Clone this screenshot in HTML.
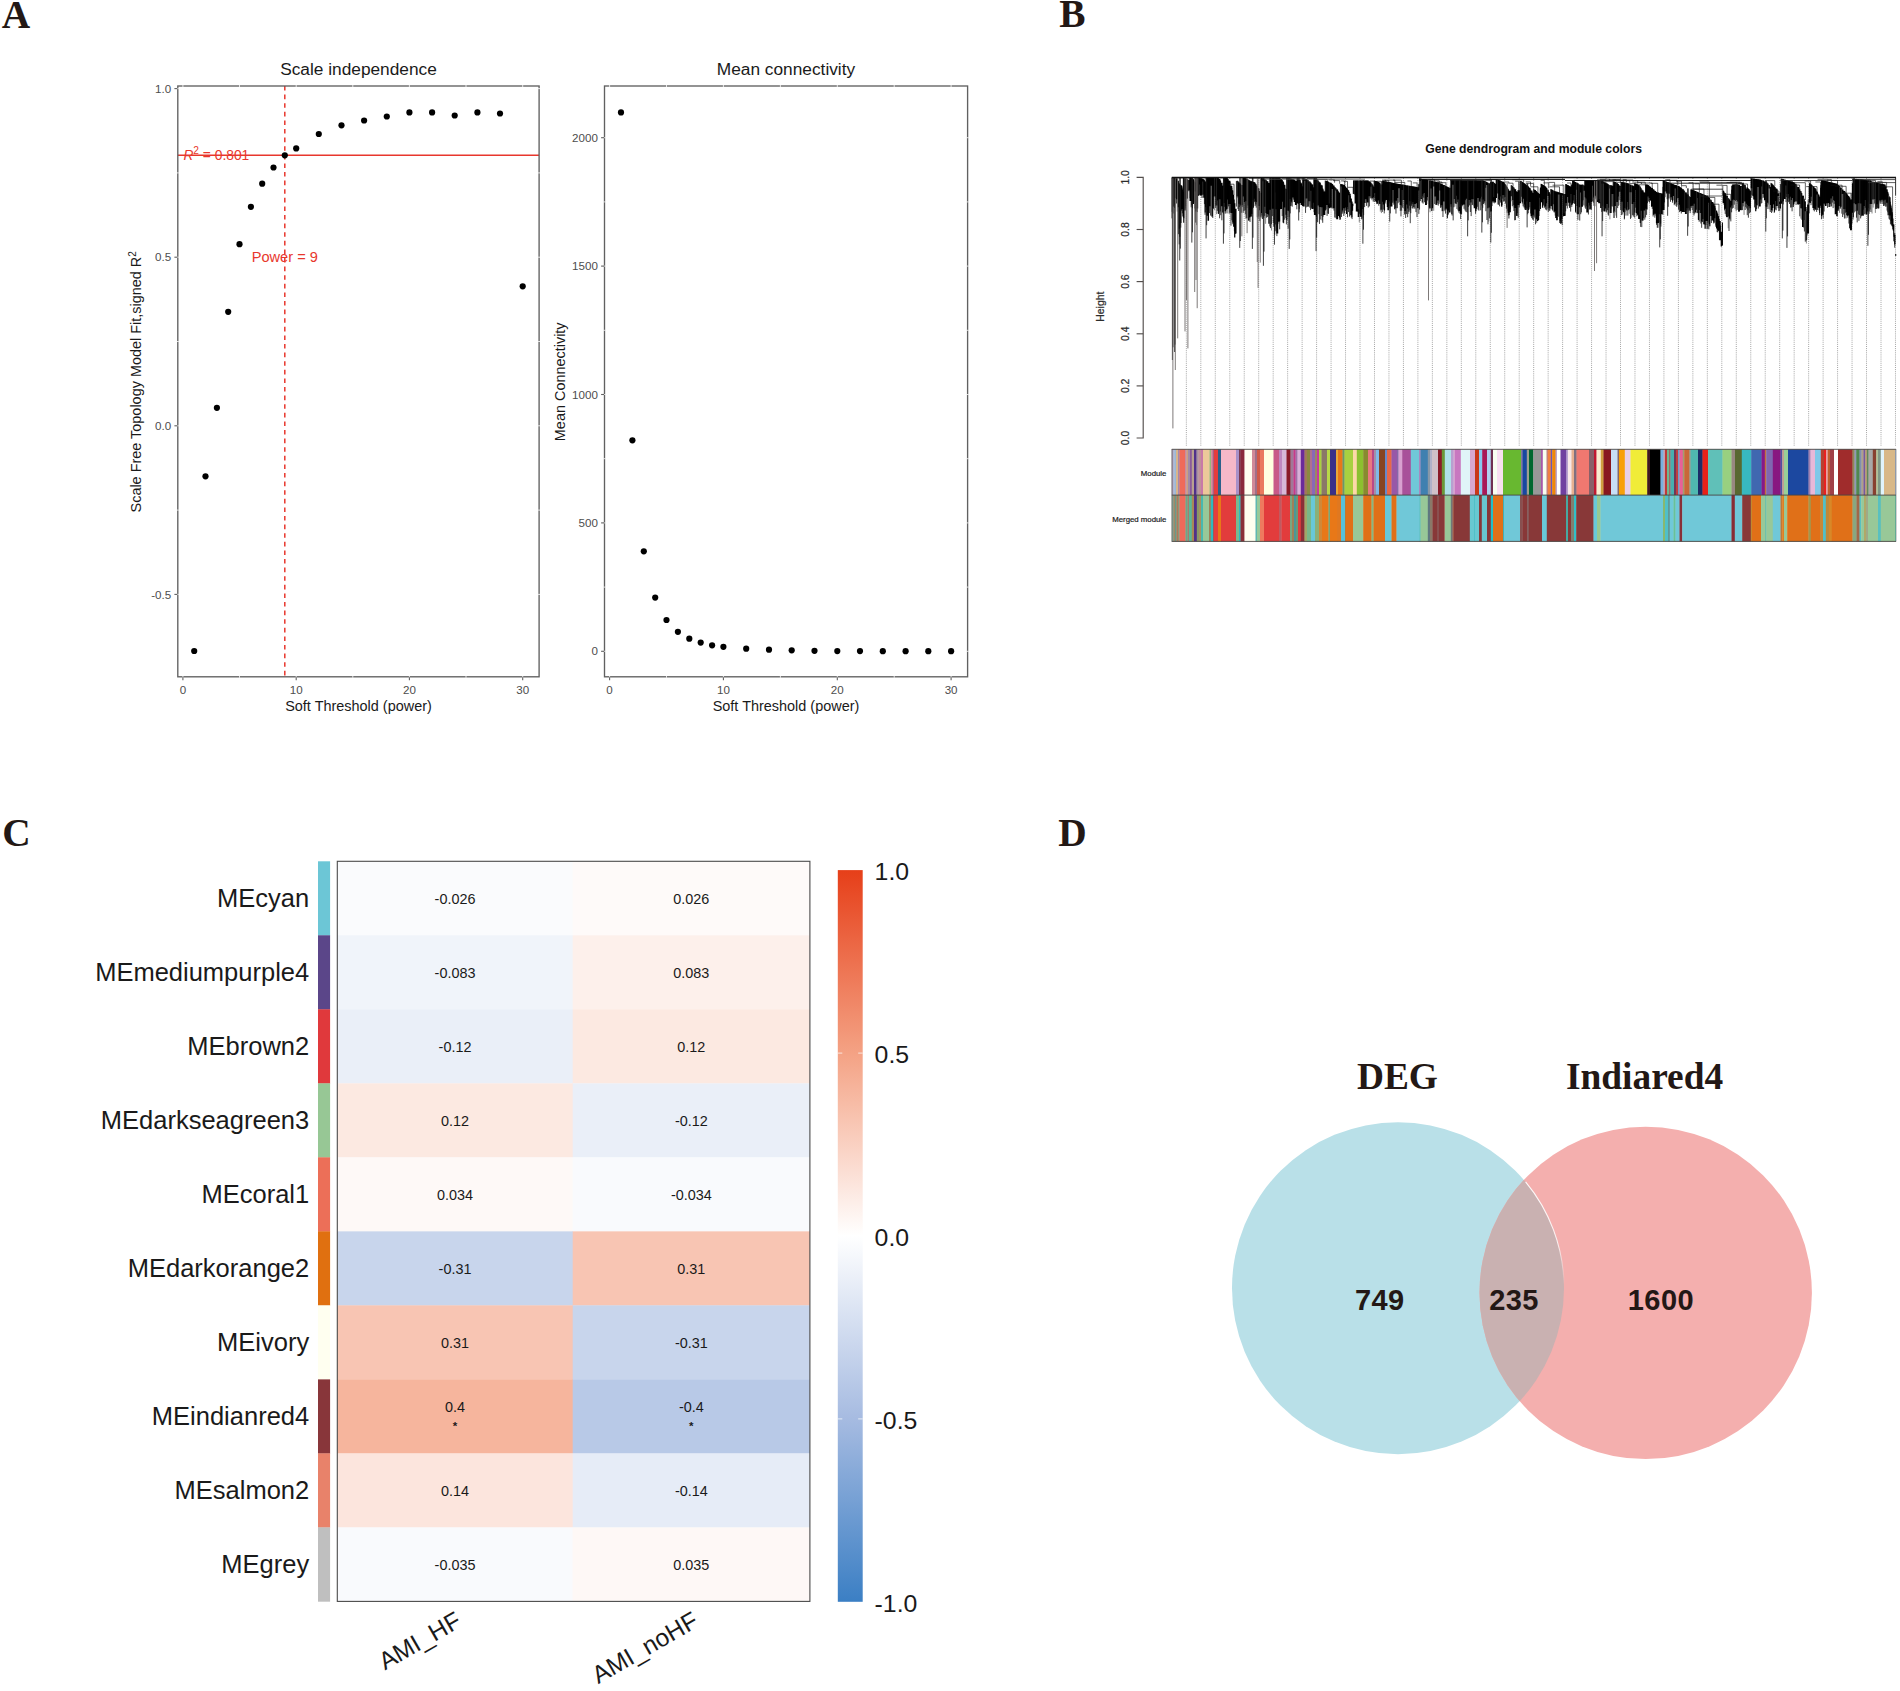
<!DOCTYPE html>
<html lang="en"><head><meta charset="utf-8"><title>WGCNA figure</title>
<style>
html,body{margin:0;padding:0;background:#fff;}
body{width:1900px;height:1691px;overflow:hidden;}
svg{display:block;}
text{font-family:"Liberation Sans",sans-serif;}
.serif{font-family:"Liberation Serif",serif;font-weight:bold;}
</style></head><body>
<svg width="1900" height="1691" viewBox="0 0 1900 1691">
<rect width="1900" height="1691" fill="#fff"/>
<text class="serif" x="1.7" y="27.8" font-size="39.4" fill="#231815">A</text>
<text class="serif" x="1059.2" y="27.2" font-size="39.4" fill="#231815">B</text>
<text class="serif" x="2.3" y="845.7" font-size="39.4" fill="#231815">C</text>
<text class="serif" x="1058.2" y="846.0" font-size="39.4" fill="#231815">D</text>
<g id="panelA">
<line x1="177.8" x2="539.1" y1="155.2" y2="155.2" stroke="#e8372d" stroke-width="1.5"/>
<line x1="284.8" x2="284.8" y1="86.0" y2="676.8" stroke="#e8372d" stroke-width="1.5" stroke-dasharray="4.6 4.0"/>
<circle cx="194.2" cy="651.0" r="3.1" fill="#000"/>
<circle cx="205.5" cy="476.3" r="3.1" fill="#000"/>
<circle cx="216.9" cy="407.8" r="3.1" fill="#000"/>
<circle cx="228.2" cy="311.8" r="3.1" fill="#000"/>
<circle cx="239.5" cy="244.2" r="3.1" fill="#000"/>
<circle cx="250.9" cy="206.8" r="3.1" fill="#000"/>
<circle cx="262.2" cy="183.7" r="3.1" fill="#000"/>
<circle cx="273.5" cy="167.5" r="3.1" fill="#000"/>
<circle cx="284.8" cy="155.3" r="3.1" fill="#000"/>
<circle cx="296.2" cy="148.4" r="3.1" fill="#000"/>
<circle cx="318.8" cy="134.0" r="3.1" fill="#000"/>
<circle cx="341.5" cy="125.3" r="3.1" fill="#000"/>
<circle cx="364.1" cy="120.5" r="3.1" fill="#000"/>
<circle cx="386.8" cy="116.5" r="3.1" fill="#000"/>
<circle cx="409.4" cy="112.4" r="3.1" fill="#000"/>
<circle cx="432.1" cy="112.4" r="3.1" fill="#000"/>
<circle cx="454.7" cy="115.5" r="3.1" fill="#000"/>
<circle cx="477.4" cy="112.4" r="3.1" fill="#000"/>
<circle cx="500.0" cy="113.5" r="3.1" fill="#000"/>
<circle cx="522.7" cy="286.3" r="3.1" fill="#000"/>
<text x="183.4" y="159.6" font-size="13.8" fill="#e8372d"><tspan font-style="italic">R</tspan><tspan dy="-6" font-size="10.2">2</tspan><tspan dy="6"> = 0.801</tspan></text>
<text x="284.8" y="262.1" font-size="14.6" fill="#e8372d" text-anchor="middle">Power = 9</text>
<rect x="177.8" y="86.0" width="361.3" height="590.8" fill="none" stroke="#606060" stroke-width="1.35"/>
<line x1="182.9" x2="182.9" y1="85.0" y2="87.0" stroke="#fff" stroke-width="0.8"/>
<line x1="182.9" x2="182.9" y1="675.8" y2="677.8" stroke="#fff" stroke-width="0.8"/>
<line x1="239.5" x2="239.5" y1="85.0" y2="87.0" stroke="#fff" stroke-width="0.8"/>
<line x1="239.5" x2="239.5" y1="675.8" y2="677.8" stroke="#fff" stroke-width="0.8"/>
<line x1="296.2" x2="296.2" y1="85.0" y2="87.0" stroke="#fff" stroke-width="0.8"/>
<line x1="296.2" x2="296.2" y1="675.8" y2="677.8" stroke="#fff" stroke-width="0.8"/>
<line x1="352.8" x2="352.8" y1="85.0" y2="87.0" stroke="#fff" stroke-width="0.8"/>
<line x1="352.8" x2="352.8" y1="675.8" y2="677.8" stroke="#fff" stroke-width="0.8"/>
<line x1="409.4" x2="409.4" y1="85.0" y2="87.0" stroke="#fff" stroke-width="0.8"/>
<line x1="409.4" x2="409.4" y1="675.8" y2="677.8" stroke="#fff" stroke-width="0.8"/>
<line x1="466.0" x2="466.0" y1="85.0" y2="87.0" stroke="#fff" stroke-width="0.8"/>
<line x1="466.0" x2="466.0" y1="675.8" y2="677.8" stroke="#fff" stroke-width="0.8"/>
<line x1="522.7" x2="522.7" y1="85.0" y2="87.0" stroke="#fff" stroke-width="0.8"/>
<line x1="522.7" x2="522.7" y1="675.8" y2="677.8" stroke="#fff" stroke-width="0.8"/>
<line x1="176.8" x2="178.8" y1="678.7" y2="678.7" stroke="#fff" stroke-width="0.8"/>
<line x1="538.1" x2="540.1" y1="678.7" y2="678.7" stroke="#fff" stroke-width="0.8"/>
<line x1="176.8" x2="178.8" y1="594.4" y2="594.4" stroke="#fff" stroke-width="0.8"/>
<line x1="538.1" x2="540.1" y1="594.4" y2="594.4" stroke="#fff" stroke-width="0.8"/>
<line x1="176.8" x2="178.8" y1="510.1" y2="510.1" stroke="#fff" stroke-width="0.8"/>
<line x1="538.1" x2="540.1" y1="510.1" y2="510.1" stroke="#fff" stroke-width="0.8"/>
<line x1="176.8" x2="178.8" y1="425.8" y2="425.8" stroke="#fff" stroke-width="0.8"/>
<line x1="538.1" x2="540.1" y1="425.8" y2="425.8" stroke="#fff" stroke-width="0.8"/>
<line x1="176.8" x2="178.8" y1="341.5" y2="341.5" stroke="#fff" stroke-width="0.8"/>
<line x1="538.1" x2="540.1" y1="341.5" y2="341.5" stroke="#fff" stroke-width="0.8"/>
<line x1="176.8" x2="178.8" y1="257.2" y2="257.2" stroke="#fff" stroke-width="0.8"/>
<line x1="538.1" x2="540.1" y1="257.2" y2="257.2" stroke="#fff" stroke-width="0.8"/>
<line x1="176.8" x2="178.8" y1="172.9" y2="172.9" stroke="#fff" stroke-width="0.8"/>
<line x1="538.1" x2="540.1" y1="172.9" y2="172.9" stroke="#fff" stroke-width="0.8"/>
<line x1="176.8" x2="178.8" y1="88.6" y2="88.6" stroke="#fff" stroke-width="0.8"/>
<line x1="538.1" x2="540.1" y1="88.6" y2="88.6" stroke="#fff" stroke-width="0.8"/>
<line x1="174.4" x2="177.4" y1="88.6" y2="88.6" stroke="#606060" stroke-width="1.1"/>
<text x="171.2" y="92.7" font-size="11.6" fill="#4d4d4d" text-anchor="end">1.0</text>
<line x1="174.4" x2="177.4" y1="257.2" y2="257.2" stroke="#606060" stroke-width="1.1"/>
<text x="171.2" y="261.3" font-size="11.6" fill="#4d4d4d" text-anchor="end">0.5</text>
<line x1="174.4" x2="177.4" y1="425.8" y2="425.8" stroke="#606060" stroke-width="1.1"/>
<text x="171.2" y="429.9" font-size="11.6" fill="#4d4d4d" text-anchor="end">0.0</text>
<line x1="174.4" x2="177.4" y1="594.4" y2="594.4" stroke="#606060" stroke-width="1.1"/>
<text x="171.2" y="598.5" font-size="11.6" fill="#4d4d4d" text-anchor="end">-0.5</text>
<line x1="182.9" x2="182.9" y1="677.1999999999999" y2="680.1999999999999" stroke="#606060" stroke-width="1.1"/>
<text x="182.9" y="693.8" font-size="11.6" fill="#4d4d4d" text-anchor="middle">0</text>
<line x1="296.2" x2="296.2" y1="677.1999999999999" y2="680.1999999999999" stroke="#606060" stroke-width="1.1"/>
<text x="296.2" y="693.8" font-size="11.6" fill="#4d4d4d" text-anchor="middle">10</text>
<line x1="409.4" x2="409.4" y1="677.1999999999999" y2="680.1999999999999" stroke="#606060" stroke-width="1.1"/>
<text x="409.4" y="693.8" font-size="11.6" fill="#4d4d4d" text-anchor="middle">20</text>
<line x1="522.7" x2="522.7" y1="677.1999999999999" y2="680.1999999999999" stroke="#606060" stroke-width="1.1"/>
<text x="522.7" y="693.8" font-size="11.6" fill="#4d4d4d" text-anchor="middle">30</text>
<text x="358.5" y="74.5" font-size="17.3" fill="#1a1a1a" text-anchor="middle">Scale independence</text>
<text x="358.5" y="710.6" font-size="14.45" fill="#1a1a1a" text-anchor="middle">Soft Threshold (power)</text>
<text transform="translate(141.0 381.8) rotate(-90)" font-size="14.45" fill="#1a1a1a" text-anchor="middle">Scale Free Topology Model Fit,signed R<tspan dy="-5.4" font-size="10.1">2</tspan></text>
<circle cx="621.0" cy="112.4" r="3.1" fill="#000"/>
<circle cx="632.4" cy="440.3" r="3.1" fill="#000"/>
<circle cx="643.8" cy="551.3" r="3.1" fill="#000"/>
<circle cx="655.2" cy="597.6" r="3.1" fill="#000"/>
<circle cx="666.5" cy="620.0" r="3.1" fill="#000"/>
<circle cx="677.9" cy="631.8" r="3.1" fill="#000"/>
<circle cx="689.3" cy="638.7" r="3.1" fill="#000"/>
<circle cx="700.7" cy="642.6" r="3.1" fill="#000"/>
<circle cx="712.1" cy="645.3" r="3.1" fill="#000"/>
<circle cx="723.4" cy="646.8" r="3.1" fill="#000"/>
<circle cx="746.2" cy="648.7" r="3.1" fill="#000"/>
<circle cx="769.0" cy="649.7" r="3.1" fill="#000"/>
<circle cx="791.7" cy="650.3" r="3.1" fill="#000"/>
<circle cx="814.5" cy="650.8" r="3.1" fill="#000"/>
<circle cx="837.3" cy="651.1" r="3.1" fill="#000"/>
<circle cx="860.0" cy="651.1" r="3.1" fill="#000"/>
<circle cx="882.8" cy="651.2" r="3.1" fill="#000"/>
<circle cx="905.6" cy="651.2" r="3.1" fill="#000"/>
<circle cx="928.3" cy="651.2" r="3.1" fill="#000"/>
<circle cx="951.1" cy="651.2" r="3.1" fill="#000"/>
<rect x="604.5" y="86.0" width="363.1" height="590.8" fill="none" stroke="#606060" stroke-width="1.35"/>
<line x1="609.6" x2="609.6" y1="85.0" y2="87.0" stroke="#fff" stroke-width="0.8"/>
<line x1="609.6" x2="609.6" y1="675.8" y2="677.8" stroke="#fff" stroke-width="0.8"/>
<line x1="666.5" x2="666.5" y1="85.0" y2="87.0" stroke="#fff" stroke-width="0.8"/>
<line x1="666.5" x2="666.5" y1="675.8" y2="677.8" stroke="#fff" stroke-width="0.8"/>
<line x1="723.4" x2="723.4" y1="85.0" y2="87.0" stroke="#fff" stroke-width="0.8"/>
<line x1="723.4" x2="723.4" y1="675.8" y2="677.8" stroke="#fff" stroke-width="0.8"/>
<line x1="780.4" x2="780.4" y1="85.0" y2="87.0" stroke="#fff" stroke-width="0.8"/>
<line x1="780.4" x2="780.4" y1="675.8" y2="677.8" stroke="#fff" stroke-width="0.8"/>
<line x1="837.3" x2="837.3" y1="85.0" y2="87.0" stroke="#fff" stroke-width="0.8"/>
<line x1="837.3" x2="837.3" y1="675.8" y2="677.8" stroke="#fff" stroke-width="0.8"/>
<line x1="894.2" x2="894.2" y1="85.0" y2="87.0" stroke="#fff" stroke-width="0.8"/>
<line x1="894.2" x2="894.2" y1="675.8" y2="677.8" stroke="#fff" stroke-width="0.8"/>
<line x1="951.1" x2="951.1" y1="85.0" y2="87.0" stroke="#fff" stroke-width="0.8"/>
<line x1="951.1" x2="951.1" y1="675.8" y2="677.8" stroke="#fff" stroke-width="0.8"/>
<line x1="603.5" x2="605.5" y1="651.3" y2="651.3" stroke="#fff" stroke-width="0.8"/>
<line x1="966.6" x2="968.6" y1="651.3" y2="651.3" stroke="#fff" stroke-width="0.8"/>
<line x1="603.5" x2="605.5" y1="587.1" y2="587.1" stroke="#fff" stroke-width="0.8"/>
<line x1="966.6" x2="968.6" y1="587.1" y2="587.1" stroke="#fff" stroke-width="0.8"/>
<line x1="603.5" x2="605.5" y1="522.9" y2="522.9" stroke="#fff" stroke-width="0.8"/>
<line x1="966.6" x2="968.6" y1="522.9" y2="522.9" stroke="#fff" stroke-width="0.8"/>
<line x1="603.5" x2="605.5" y1="458.7" y2="458.7" stroke="#fff" stroke-width="0.8"/>
<line x1="966.6" x2="968.6" y1="458.7" y2="458.7" stroke="#fff" stroke-width="0.8"/>
<line x1="603.5" x2="605.5" y1="394.5" y2="394.5" stroke="#fff" stroke-width="0.8"/>
<line x1="966.6" x2="968.6" y1="394.5" y2="394.5" stroke="#fff" stroke-width="0.8"/>
<line x1="603.5" x2="605.5" y1="330.3" y2="330.3" stroke="#fff" stroke-width="0.8"/>
<line x1="966.6" x2="968.6" y1="330.3" y2="330.3" stroke="#fff" stroke-width="0.8"/>
<line x1="603.5" x2="605.5" y1="266.1" y2="266.1" stroke="#fff" stroke-width="0.8"/>
<line x1="966.6" x2="968.6" y1="266.1" y2="266.1" stroke="#fff" stroke-width="0.8"/>
<line x1="603.5" x2="605.5" y1="201.9" y2="201.9" stroke="#fff" stroke-width="0.8"/>
<line x1="966.6" x2="968.6" y1="201.9" y2="201.9" stroke="#fff" stroke-width="0.8"/>
<line x1="603.5" x2="605.5" y1="137.7" y2="137.7" stroke="#fff" stroke-width="0.8"/>
<line x1="966.6" x2="968.6" y1="137.7" y2="137.7" stroke="#fff" stroke-width="0.8"/>
<line x1="601.1" x2="604.1" y1="651.3" y2="651.3" stroke="#606060" stroke-width="1.1"/>
<text x="597.9" y="655.4" font-size="11.6" fill="#4d4d4d" text-anchor="end">0</text>
<line x1="601.1" x2="604.1" y1="522.9" y2="522.9" stroke="#606060" stroke-width="1.1"/>
<text x="597.9" y="527.0" font-size="11.6" fill="#4d4d4d" text-anchor="end">500</text>
<line x1="601.1" x2="604.1" y1="394.5" y2="394.5" stroke="#606060" stroke-width="1.1"/>
<text x="597.9" y="398.6" font-size="11.6" fill="#4d4d4d" text-anchor="end">1000</text>
<line x1="601.1" x2="604.1" y1="266.1" y2="266.1" stroke="#606060" stroke-width="1.1"/>
<text x="597.9" y="270.2" font-size="11.6" fill="#4d4d4d" text-anchor="end">1500</text>
<line x1="601.1" x2="604.1" y1="137.7" y2="137.7" stroke="#606060" stroke-width="1.1"/>
<text x="597.9" y="141.8" font-size="11.6" fill="#4d4d4d" text-anchor="end">2000</text>
<line x1="609.6" x2="609.6" y1="677.1999999999999" y2="680.1999999999999" stroke="#606060" stroke-width="1.1"/>
<text x="609.6" y="693.8" font-size="11.6" fill="#4d4d4d" text-anchor="middle">0</text>
<line x1="723.4" x2="723.4" y1="677.1999999999999" y2="680.1999999999999" stroke="#606060" stroke-width="1.1"/>
<text x="723.4" y="693.8" font-size="11.6" fill="#4d4d4d" text-anchor="middle">10</text>
<line x1="837.3" x2="837.3" y1="677.1999999999999" y2="680.1999999999999" stroke="#606060" stroke-width="1.1"/>
<text x="837.3" y="693.8" font-size="11.6" fill="#4d4d4d" text-anchor="middle">20</text>
<line x1="951.1" x2="951.1" y1="677.1999999999999" y2="680.1999999999999" stroke="#606060" stroke-width="1.1"/>
<text x="951.1" y="693.8" font-size="11.6" fill="#4d4d4d" text-anchor="middle">30</text>
<text x="786.0" y="74.5" font-size="17.3" fill="#1a1a1a" text-anchor="middle">Mean connectivity</text>
<text x="786.0" y="710.6" font-size="14.45" fill="#1a1a1a" text-anchor="middle">Soft Threshold (power)</text>
<text transform="translate(564.6 381.8) rotate(-90)" font-size="14.45" fill="#1a1a1a" text-anchor="middle">Mean Connectivity</text>
</g>
<g id="panelB">
<text x="1533.6" y="153.2" font-size="12.2" font-weight="bold" fill="#111" text-anchor="middle">Gene dendrogram and module colors</text>
<path d="M1136.6 177.4H1143.2V438.0H1136.6" fill="none" stroke="#544f4d" stroke-width="1.15"/>
<text transform="translate(1128.8 438.0) rotate(-90)" font-size="10.4" fill="#2c2c2c" stroke="#2c2c2c" stroke-width="0.2" text-anchor="middle">0.0</text>
<line x1="1136.6" x2="1143.2" y1="385.9" y2="385.9" stroke="#544f4d" stroke-width="1.15"/>
<text transform="translate(1128.8 385.9) rotate(-90)" font-size="10.4" fill="#2c2c2c" stroke="#2c2c2c" stroke-width="0.2" text-anchor="middle">0.2</text>
<line x1="1136.6" x2="1143.2" y1="333.8" y2="333.8" stroke="#544f4d" stroke-width="1.15"/>
<text transform="translate(1128.8 333.8) rotate(-90)" font-size="10.4" fill="#2c2c2c" stroke="#2c2c2c" stroke-width="0.2" text-anchor="middle">0.4</text>
<line x1="1136.6" x2="1143.2" y1="281.6" y2="281.6" stroke="#544f4d" stroke-width="1.15"/>
<text transform="translate(1128.8 281.6) rotate(-90)" font-size="10.4" fill="#2c2c2c" stroke="#2c2c2c" stroke-width="0.2" text-anchor="middle">0.6</text>
<line x1="1136.6" x2="1143.2" y1="229.5" y2="229.5" stroke="#544f4d" stroke-width="1.15"/>
<text transform="translate(1128.8 229.5) rotate(-90)" font-size="10.4" fill="#2c2c2c" stroke="#2c2c2c" stroke-width="0.2" text-anchor="middle">0.8</text>
<text transform="translate(1128.8 177.4) rotate(-90)" font-size="10.4" fill="#2c2c2c" stroke="#2c2c2c" stroke-width="0.2" text-anchor="middle">1.0</text>
<text transform="translate(1103.8 306.7) rotate(-90)" font-size="10.4" fill="#2c2c2c" stroke="#2c2c2c" stroke-width="0.2" text-anchor="middle">Height</text>
<text x="1166.4" y="475.7" font-size="7.8" fill="#1a1a1a" stroke="#1a1a1a" stroke-width="0.2" text-anchor="end">Module</text>
<text x="1166.4" y="521.6" font-size="7.8" fill="#1a1a1a" stroke="#1a1a1a" stroke-width="0.2" text-anchor="end">Merged module</text>
<path d="M1186.35 178V445.8M1200.82 178V445.8M1215.29 178V445.8M1229.77 178V445.8M1244.24 178V445.8M1258.71 178V445.8M1273.18 178V445.8M1287.65 178V445.8M1302.13 178V445.8M1316.60 178V445.8M1331.07 178V445.8M1345.54 178V445.8M1360.01 178V445.8M1374.49 178V445.8M1388.96 178V445.8M1403.43 178V445.8M1417.90 178V445.8M1432.37 178V445.8M1446.85 178V445.8M1461.32 178V445.8M1475.79 178V445.8M1490.26 178V445.8M1504.73 178V445.8M1519.21 178V445.8M1533.68 178V445.8M1548.15 178V445.8M1562.62 178V445.8M1577.09 178V445.8M1591.57 178V445.8M1606.04 178V445.8M1620.51 178V445.8M1634.98 178V445.8M1649.45 178V445.8M1663.93 178V445.8M1678.40 178V445.8M1692.87 178V445.8M1707.34 178V445.8M1721.81 178V445.8M1736.29 178V445.8M1750.76 178V445.8M1765.23 178V445.8M1779.70 178V445.8M1794.17 178V445.8M1808.65 178V445.8M1823.12 178V445.8M1837.59 178V445.8M1852.06 178V445.8M1866.53 178V445.8M1881.01 178V445.8M1895.48 178V445.8" stroke="#a4a4a4" stroke-width="1" stroke-dasharray="1 1.1" fill="none"/>
<path d="M1171.80 177.6h0.85V211.7h-0.85zM1172.60 177.6h1.55V206.5h-1.55zM1174.10 177.6h0.85V204.7h-0.85zM1174.90 177.7h0.85V197.9h-0.85zM1175.70 178.4h1.95V199.2h-1.95zM1177.60 180.7h1.25V207.3h-1.25zM1178.80 183.2h0.65V228.8h-0.65zM1179.40 184.3h0.85V236.8h-0.85zM1180.20 185.2h1.25V222.9h-1.25zM1181.40 185.8h1.05V209.0h-1.05zM1182.40 189.4h0.85V216.6h-0.85zM1183.20 177.6h1.05V222.8h-1.05zM1184.20 178.2h1.55V210.4h-1.55zM1185.70 179.1h1.95V198.7h-1.95zM1187.60 180.1h1.95V190.2h-1.95zM1189.50 177.7h1.95V200.9h-1.95zM1191.40 178.2h0.85V205.2h-0.85zM1192.20 178.6h0.65V208.3h-0.65zM1192.80 179.2h1.25V203.9h-1.25zM1194.00 180.6h0.65V202.6h-0.65zM1194.60 182.3h0.85V191.4h-0.85zM1195.40 177.6h1.25V211.4h-1.25zM1196.60 177.8h1.55V208.5h-1.55zM1198.10 177.9h1.05V195.8h-1.05zM1199.10 177.9h0.65V184.4h-0.65zM1199.70 178.2h1.95V195.4h-1.95zM1201.60 178.6h0.85V198.1h-0.85zM1202.40 178.9h0.85V181.5h-0.85zM1203.20 179.5h1.55V197.7h-1.55zM1204.70 181.4h1.05V212.4h-1.05zM1205.70 182.3h0.65V207.0h-0.65zM1206.30 177.6h1.25V215.8h-1.25zM1207.50 177.6h1.55V220.8h-1.55zM1209.00 177.6h1.55V206.2h-1.55zM1210.50 177.6h1.55V185.7h-1.55zM1212.00 177.6h0.85V216.4h-0.85zM1212.80 177.6h0.85V208.0h-0.85zM1213.60 177.6h1.95V196.5h-1.95zM1215.50 177.6h1.95V205.4h-1.95zM1217.40 177.6h0.65V200.5h-0.65zM1218.00 177.9h0.85V213.9h-0.85zM1218.80 178.9h1.55V199.3h-1.55zM1220.30 180.4h0.65V211.6h-0.65zM1220.90 182.7h1.55V206.2h-1.55zM1222.40 185.8h1.05V212.4h-1.05zM1223.40 177.6h1.25V203.1h-1.25zM1224.60 177.6h1.55V211.2h-1.55zM1226.10 177.7h1.05V209.6h-1.05zM1227.10 178.3h0.85V199.4h-0.85zM1227.90 179.2h0.65V203.9h-0.65zM1228.50 181.0h1.95V203.9h-1.95zM1230.40 185.9h1.95V213.0h-1.95zM1232.30 190.3h0.85V222.6h-0.85zM1233.10 194.8h1.05V226.8h-1.05zM1234.10 203.2h1.25V237.4h-1.25zM1235.30 208.7h1.25V233.6h-1.25zM1236.50 180.9h1.95V196.4h-1.95zM1238.40 182.5h1.25V203.8h-1.25zM1239.60 183.6h1.25V204.4h-1.25zM1240.80 184.9h1.95V205.3h-1.95zM1242.70 177.7h1.25V196.4h-1.25zM1243.90 177.9h1.05V202.3h-1.05zM1244.90 178.1h0.65V214.2h-0.65zM1245.50 178.3h0.85V201.3h-0.85zM1246.30 178.6h1.05V218.1h-1.05zM1247.30 179.1h0.85V205.6h-0.85zM1248.10 179.8h1.25V220.5h-1.25zM1249.30 180.6h1.05V217.5h-1.05zM1250.30 181.2h1.55V216.5h-1.55zM1251.80 181.6h0.65V213.9h-0.65zM1252.40 181.8h0.85V200.0h-0.85zM1253.20 181.9h0.65V208.0h-0.65zM1253.80 182.0h0.65V198.7h-0.65zM1254.40 182.5h1.05V201.6h-1.05zM1255.40 184.1h1.05V204.6h-1.05zM1256.40 185.7h1.05V201.9h-1.05zM1257.40 188.2h1.95V206.0h-1.95zM1259.30 191.0h0.85V210.2h-0.85zM1260.10 192.8h1.05V216.7h-1.05zM1261.10 178.0h0.85V213.1h-0.85zM1261.90 178.1h0.85V219.0h-0.85zM1262.70 178.4h1.05V181.3h-1.05zM1263.70 178.9h1.55V206.8h-1.55zM1265.20 179.8h1.25V212.9h-1.25zM1266.40 181.2h1.95V213.9h-1.95zM1268.30 183.0h1.25V223.8h-1.25zM1269.50 178.0h1.55V209.8h-1.55zM1271.00 178.0h0.85V224.2h-0.85zM1271.80 178.0h1.95V208.8h-1.95zM1273.70 178.0h1.05V227.0h-1.05zM1274.70 178.0h0.65V192.5h-0.65zM1275.30 178.0h1.05V209.3h-1.05zM1276.30 178.0h1.95V233.5h-1.95zM1278.20 178.1h1.95V221.6h-1.95zM1280.10 178.7h1.95V208.9h-1.95zM1282.00 180.2h0.85V201.7h-0.85zM1282.80 181.8h1.05V222.8h-1.05zM1283.80 184.8h1.55V207.6h-1.55zM1285.30 189.1h1.05V214.8h-1.05zM1286.30 178.1h1.05V220.1h-1.05zM1287.30 178.2h1.55V210.7h-1.55zM1288.80 178.4h0.65V217.0h-0.65zM1289.40 178.5h0.85V199.0h-0.85zM1290.20 178.6h0.65V206.0h-0.65zM1290.80 178.7h0.65V201.5h-0.65zM1291.40 178.9h0.85V202.5h-0.85zM1292.20 179.3h1.55V197.6h-1.55zM1293.70 179.8h1.25V201.9h-1.25zM1294.90 180.8h1.95V204.9h-1.95zM1296.80 178.3h1.95V203.6h-1.95zM1298.70 180.0h1.95V203.0h-1.95zM1300.60 183.3h1.55V205.0h-1.55zM1302.10 186.2h0.65V206.0h-0.65zM1302.70 178.2h1.95V206.5h-1.95zM1304.60 178.5h0.85V180.9h-0.85zM1305.40 179.1h1.95V198.4h-1.95zM1307.30 180.1h1.25V206.8h-1.25zM1308.50 181.4h1.95V201.2h-1.95zM1310.40 182.8h1.05V190.7h-1.05zM1311.40 184.5h1.95V208.9h-1.95zM1313.30 187.4h0.65V202.7h-0.65zM1313.90 178.3h1.95V214.9h-1.95zM1315.80 178.9h1.05V216.4h-1.05zM1316.80 179.5h0.85V221.9h-0.85zM1317.60 180.4h1.25V205.5h-1.25zM1318.80 182.5h1.95V207.1h-1.95zM1320.70 185.3h1.95V207.3h-1.95zM1322.60 188.9h0.85V216.7h-0.85zM1323.40 191.5h1.95V214.9h-1.95zM1325.30 180.7h0.65V210.5h-0.65zM1325.90 181.1h1.95V204.9h-1.95zM1327.80 181.8h1.25V207.5h-1.25zM1329.00 182.4h1.25V208.3h-1.25zM1330.20 183.0h1.55V207.5h-1.55zM1331.70 184.0h1.25V189.0h-1.25zM1332.90 185.4h1.55V208.3h-1.55zM1334.40 186.9h1.05V217.5h-1.05zM1335.40 187.9h0.85V190.6h-0.85zM1336.20 189.6h1.95V219.2h-1.95zM1338.10 191.4h0.85V215.9h-0.85zM1338.90 192.8h1.05V217.4h-1.05zM1339.90 184.0h0.85V219.4h-0.85zM1340.70 184.2h1.25V186.4h-1.25zM1341.90 184.4h1.25V210.5h-1.25zM1343.10 184.9h1.95V208.3h-1.95zM1345.00 186.6h1.05V207.4h-1.05zM1346.00 187.8h1.05V214.1h-1.05zM1347.00 188.8h0.65V206.9h-0.65zM1347.60 189.5h0.65V209.1h-0.65zM1348.20 190.4h1.05V195.3h-1.05zM1349.20 193.8h1.55V202.5h-1.55zM1350.70 198.4h1.05V215.2h-1.05zM1351.70 201.4h0.65V217.0h-0.65zM1352.30 204.0h0.85V210.8h-0.85zM1353.10 180.5h1.55V193.9h-1.55zM1354.60 180.5h1.25V203.4h-1.25zM1355.80 180.5h1.95V211.5h-1.95zM1357.70 180.5h1.55V217.1h-1.55zM1359.20 180.5h0.65V213.8h-0.65zM1359.80 180.5h1.55V216.7h-1.55zM1361.30 180.5h1.05V219.2h-1.05zM1362.30 180.5h1.55V209.0h-1.55zM1363.80 180.5h1.05V203.0h-1.05zM1364.80 180.5h1.95V199.2h-1.95zM1366.70 180.6h1.95V202.6h-1.95zM1368.60 181.4h1.95V196.2h-1.95zM1370.50 182.6h0.85V186.7h-0.85zM1371.30 183.8h1.25V198.4h-1.25zM1372.50 185.4h1.05V198.3h-1.05zM1373.50 186.9h0.85V196.9h-0.85zM1374.30 180.8h0.85V193.1h-0.85zM1375.10 180.9h0.85V201.5h-0.85zM1375.90 181.1h0.85V202.2h-0.85zM1376.70 181.4h1.25V203.7h-1.25zM1377.90 181.9h0.85V200.2h-0.85zM1378.70 182.3h0.65V203.8h-0.65zM1379.30 182.9h1.05V203.9h-1.05zM1380.30 184.3h1.95V209.7h-1.95zM1382.20 181.0h0.65V201.8h-0.65zM1382.80 181.0h1.25V204.5h-1.25zM1384.00 181.2h1.05V210.4h-1.05zM1385.00 181.3h0.65V201.6h-0.65zM1385.60 181.5h1.25V200.0h-1.25zM1386.80 181.7h0.65V206.9h-0.65zM1387.40 181.9h1.55V210.3h-1.55zM1388.90 182.1h0.85V201.2h-0.85zM1389.70 182.3h0.85V206.4h-0.85zM1390.50 182.6h1.95V206.5h-1.95zM1392.40 182.9h1.25V190.0h-1.25zM1393.60 183.0h0.65V201.4h-0.65zM1394.20 183.2h0.65V203.6h-0.65zM1394.80 183.3h0.85V208.1h-0.85zM1395.60 183.5h1.25V200.7h-1.25zM1396.80 183.7h0.65V207.9h-0.65zM1397.40 183.8h0.85V197.9h-0.85zM1398.20 184.1h1.55V188.2h-1.55zM1399.70 184.3h1.25V204.9h-1.25zM1400.90 184.5h0.85V205.6h-0.85zM1401.70 184.6h0.85V190.0h-0.85zM1402.50 184.8h1.95V200.0h-1.95zM1404.40 185.1h1.25V211.0h-1.25zM1405.60 185.2h0.65V213.7h-0.65zM1406.20 185.4h1.05V204.4h-1.05zM1407.20 185.5h1.05V208.4h-1.05zM1408.20 185.7h1.25V211.7h-1.25zM1409.40 186.0h1.95V201.2h-1.95zM1411.30 186.2h1.25V203.8h-1.25zM1412.50 186.4h0.85V202.1h-0.85zM1413.30 186.6h1.05V206.9h-1.05zM1414.30 186.8h1.55V204.1h-1.55zM1415.80 187.0h1.25V203.3h-1.25zM1417.00 187.2h1.55V207.9h-1.55zM1418.50 183.7h0.85V190.6h-0.85zM1419.30 178.5h1.25V180.8h-1.25zM1420.50 178.8h1.25V199.0h-1.25zM1421.70 178.9h1.05V202.5h-1.05zM1422.70 179.1h0.85V194.3h-0.85zM1423.50 179.3h1.55V192.9h-1.55zM1425.00 179.6h1.95V204.9h-1.95zM1426.90 179.9h1.05V197.1h-1.05zM1427.90 180.0h0.65V201.5h-0.65zM1428.50 180.2h0.65V207.3h-0.65zM1429.10 180.4h1.25V208.5h-1.25zM1430.30 180.7h1.25V188.6h-1.25zM1431.50 180.9h0.85V210.8h-0.85zM1432.30 181.1h0.85V208.3h-0.85zM1433.10 181.4h1.25V186.5h-1.25zM1434.30 181.8h1.95V196.5h-1.95zM1436.20 182.1h0.65V204.9h-0.65zM1436.80 182.2h0.65V204.8h-0.65zM1437.40 182.5h1.55V200.4h-1.55zM1438.90 183.1h1.55V190.5h-1.55zM1440.40 183.9h1.95V205.2h-1.95zM1442.30 184.5h0.65V211.0h-0.65zM1442.90 185.1h1.95V201.6h-1.95zM1444.80 185.7h0.85V209.6h-0.85zM1445.60 186.2h1.25V208.6h-1.25zM1446.80 186.7h1.05V218.3h-1.05zM1447.80 187.2h0.85V210.5h-0.85zM1448.60 187.8h1.95V212.5h-1.95zM1450.50 180.0h0.85V204.3h-0.85zM1451.30 180.0h1.05V214.3h-1.05zM1452.30 180.0h1.55V184.7h-1.55zM1453.80 180.0h0.85V198.9h-0.85zM1454.60 180.1h0.65V203.2h-0.65zM1455.20 180.1h0.85V203.8h-0.85zM1456.00 180.1h0.65V195.8h-0.65zM1456.60 180.1h0.65V209.1h-0.65zM1457.20 180.1h1.25V199.5h-1.25zM1458.40 180.1h1.25V211.1h-1.25zM1459.60 180.1h1.95V213.7h-1.95zM1461.50 180.1h0.65V204.4h-0.65zM1462.10 180.2h1.05V204.9h-1.05zM1463.10 180.2h1.95V204.4h-1.95zM1465.00 180.2h0.85V200.2h-0.85zM1465.80 180.2h1.55V198.8h-1.55zM1467.30 180.2h1.05V206.4h-1.05zM1468.30 180.2h0.85V199.9h-0.85zM1469.10 180.3h1.25V200.1h-1.25zM1470.30 180.3h1.25V202.6h-1.25zM1471.50 180.3h1.25V199.0h-1.25zM1472.70 180.3h1.05V199.2h-1.05zM1473.70 180.3h1.55V208.2h-1.55zM1475.20 180.3h0.65V211.0h-0.65zM1475.80 180.3h1.25V208.7h-1.25zM1477.00 180.4h1.95V197.9h-1.95zM1478.90 180.4h1.55V201.6h-1.55zM1480.40 180.4h0.65V198.5h-0.65zM1481.00 180.5h0.85V196.7h-0.85zM1481.80 180.6h1.95V199.5h-1.95zM1483.70 180.9h0.65V202.6h-0.65zM1484.30 181.1h1.05V201.3h-1.05zM1485.30 181.4h0.85V187.7h-0.85zM1486.10 181.9h1.25V185.1h-1.25zM1487.30 182.8h1.25V208.3h-1.25zM1488.50 183.4h1.55V207.6h-1.55zM1490.00 182.3h1.95V211.2h-1.95zM1491.90 181.8h1.95V201.4h-1.95zM1493.80 182.9h1.05V201.8h-1.05zM1494.80 183.8h1.25V202.6h-1.25zM1496.00 179.4h1.05V198.0h-1.05zM1497.00 179.6h1.25V193.4h-1.25zM1498.20 179.9h0.85V204.8h-0.85zM1499.00 180.3h1.25V200.2h-1.25zM1500.20 180.7h0.85V196.4h-0.85zM1501.00 181.1h0.85V206.5h-0.85zM1501.80 181.4h0.65V205.2h-0.65zM1502.40 182.1h1.95V194.9h-1.95zM1504.30 183.5h1.05V196.9h-1.05zM1505.30 184.6h0.65V202.8h-0.65zM1505.90 185.6h0.85V208.8h-0.85zM1506.70 186.8h0.65V207.3h-0.65zM1507.30 187.8h0.65V211.2h-0.65zM1507.90 189.0h0.65V213.1h-0.65zM1508.50 190.5h0.85V218.6h-0.85zM1509.30 190.7h1.55V212.2h-1.55zM1510.80 185.3h1.25V196.2h-1.25zM1512.00 186.2h1.25V200.0h-1.25zM1513.20 187.3h1.05V205.3h-1.05zM1514.20 189.2h1.95V208.1h-1.95zM1516.10 191.7h1.55V216.1h-1.55zM1517.60 190.2h1.95V205.0h-1.95zM1519.50 180.9h1.55V203.3h-1.55zM1521.00 181.3h1.05V196.7h-1.05zM1522.00 181.9h0.85V202.2h-0.85zM1522.80 182.5h1.25V198.7h-1.25zM1524.00 183.2h0.65V204.4h-0.65zM1524.60 183.8h0.85V207.5h-0.85zM1525.40 184.5h1.25V209.9h-1.25zM1526.60 185.5h1.25V201.6h-1.25zM1527.80 186.5h1.25V210.0h-1.25zM1529.00 187.9h1.55V201.9h-1.55zM1530.50 190.6h1.95V216.3h-1.95zM1532.40 193.0h1.05V214.7h-1.05zM1533.40 188.8h0.65V220.3h-0.65zM1534.00 189.9h1.95V209.5h-1.95zM1535.90 191.0h0.65V219.2h-0.65zM1536.50 191.6h0.65V222.7h-0.65zM1537.10 192.4h1.25V220.9h-1.25zM1538.30 193.3h0.85V220.0h-0.85zM1539.10 194.0h0.85V197.7h-0.85zM1539.90 187.6h1.05V209.0h-1.05zM1540.90 184.0h1.05V202.0h-1.05zM1541.90 184.6h1.05V207.7h-1.05zM1542.90 185.0h0.85V205.4h-0.85zM1543.70 185.5h0.85V199.0h-0.85zM1544.50 186.0h0.85V206.5h-0.85zM1545.30 186.8h1.05V209.4h-1.05zM1546.30 187.9h0.85V203.2h-0.85zM1547.10 189.7h1.55V196.0h-1.55zM1548.60 192.2h1.25V207.7h-1.25zM1549.80 194.3h0.65V208.3h-0.65zM1550.40 189.2h1.25V206.1h-1.25zM1551.60 189.8h1.25V209.2h-1.25zM1552.80 190.4h1.05V204.2h-1.05zM1553.80 190.9h0.85V212.5h-0.85zM1554.60 191.2h0.65V211.1h-0.65zM1555.20 191.4h1.05V218.1h-1.05zM1556.20 191.8h1.55V220.1h-1.55zM1557.70 192.3h1.95V194.6h-1.95zM1559.60 192.7h0.85V220.7h-0.85zM1560.40 193.0h1.25V223.4h-1.25zM1561.60 193.3h0.85V218.7h-0.85zM1562.40 193.5h0.65V195.3h-0.65zM1563.00 193.8h1.05V216.3h-1.05zM1564.00 194.1h1.55V216.1h-1.55zM1565.50 184.3h1.55V202.9h-1.55zM1567.00 185.0h1.25V197.1h-1.25zM1568.20 185.5h0.85V202.5h-0.85zM1569.00 185.9h0.65V207.9h-0.65zM1569.60 186.3h1.05V202.8h-1.05zM1570.60 186.8h0.65V194.1h-0.65zM1571.20 184.8h1.05V205.1h-1.05zM1572.20 181.0h1.55V203.3h-1.55zM1573.70 181.3h0.85V195.0h-0.85zM1574.50 181.6h0.65V203.2h-0.65zM1575.10 182.0h0.85V212.6h-0.85zM1575.90 182.4h0.65V189.8h-0.65zM1576.50 182.8h0.85V205.9h-0.85zM1577.30 183.5h1.55V214.3h-1.55zM1578.80 184.5h1.25V207.3h-1.25zM1580.00 184.8h1.05V192.4h-1.05zM1581.00 184.7h1.95V206.7h-1.95zM1582.90 184.7h0.65V200.3h-0.65zM1583.50 185.6h1.25V190.8h-1.25zM1584.70 180.1h0.85V197.3h-0.85zM1585.50 180.1h0.85V198.5h-0.85zM1586.30 180.1h1.95V212.4h-1.95zM1588.20 180.0h1.05V202.7h-1.05zM1589.20 180.0h1.55V209.5h-1.55zM1590.70 180.1h1.55V202.1h-1.55zM1592.20 180.2h0.85V185.8h-0.85zM1593.00 180.2h0.85V197.5h-0.85zM1593.80 180.3h1.95V195.7h-1.95zM1595.70 180.4h1.05V197.6h-1.05zM1596.70 180.5h1.55V201.9h-1.55zM1598.20 180.8h1.95V203.3h-1.95zM1600.10 181.1h1.55V208.1h-1.55zM1601.60 181.6h1.95V183.6h-1.95zM1603.50 182.2h1.95V211.5h-1.95zM1605.40 182.7h0.85V208.5h-0.85zM1606.20 183.4h1.55V204.0h-1.55zM1607.70 184.1h0.65V214.6h-0.65zM1608.30 184.7h0.85V207.8h-0.85zM1609.10 184.9h0.65V188.4h-0.65zM1609.70 185.2h1.95V213.0h-1.95zM1611.60 185.7h1.95V193.9h-1.95zM1613.50 181.5h1.05V218.1h-1.05zM1614.50 182.1h1.55V205.9h-1.55zM1616.00 183.2h1.95V201.9h-1.95zM1617.90 184.0h0.85V196.6h-0.85zM1618.70 185.7h1.95V191.8h-1.95zM1620.60 182.0h1.95V201.7h-1.95zM1622.50 182.2h0.65V214.6h-0.65zM1623.10 182.3h1.05V212.2h-1.05zM1624.10 182.5h0.65V218.4h-0.65zM1624.70 182.6h0.65V208.0h-0.65zM1625.30 182.8h1.05V209.6h-1.05zM1626.30 183.1h1.25V210.5h-1.25zM1627.50 183.5h0.65V202.0h-0.65zM1628.10 183.9h1.55V209.3h-1.55zM1629.60 184.7h1.95V192.3h-1.95zM1631.50 185.5h1.95V204.1h-1.95zM1633.40 186.2h1.05V201.9h-1.05zM1634.40 183.4h0.85V212.6h-0.85zM1635.20 183.5h0.65V189.9h-0.65zM1635.80 183.7h1.25V213.3h-1.25zM1637.00 184.3h1.25V214.7h-1.25zM1638.20 185.3h1.55V218.9h-1.55zM1639.70 186.6h1.05V222.9h-1.05zM1640.70 187.9h0.85V210.7h-0.85zM1641.50 190.2h1.95V220.5h-1.95zM1643.40 192.4h1.95V210.4h-1.95zM1645.30 184.5h1.05V208.8h-1.05zM1646.30 184.6h1.25V209.4h-1.25zM1647.50 184.7h1.25V196.6h-1.25zM1648.70 185.7h0.85V198.0h-0.85zM1649.50 186.7h1.55V200.5h-1.55zM1651.00 188.1h1.95V206.5h-1.95zM1652.90 189.6h1.55V214.7h-1.55zM1654.40 190.9h1.55V213.7h-1.55zM1655.90 192.0h1.05V223.0h-1.05zM1656.90 192.4h1.25V222.9h-1.25zM1658.10 192.6h0.85V223.0h-0.85zM1658.90 192.9h1.05V214.2h-1.05zM1659.90 193.2h1.25V223.6h-1.25zM1661.10 193.5h1.55V214.1h-1.55zM1662.60 180.6h1.95V210.0h-1.95zM1664.50 181.3h1.95V191.6h-1.95zM1666.40 181.9h1.05V193.6h-1.05zM1667.40 182.2h0.85V193.0h-0.85zM1668.20 182.7h1.95V193.8h-1.95zM1670.10 183.4h1.95V197.2h-1.95zM1672.00 183.9h0.85V201.1h-0.85zM1672.80 184.3h1.25V196.0h-1.25zM1674.00 184.7h0.65V203.9h-0.65zM1674.60 184.9h1.25V188.5h-1.25zM1675.80 185.3h1.25V202.3h-1.25zM1677.00 185.9h1.95V198.3h-1.95zM1678.90 186.6h1.05V204.7h-1.05zM1679.90 187.6h1.95V211.3h-1.95zM1681.80 189.2h1.95V212.0h-1.95zM1683.70 190.7h1.25V212.0h-1.25zM1684.90 192.5h1.95V214.0h-1.95zM1686.80 194.6h1.95V208.0h-1.95zM1688.70 196.0h0.85V209.7h-0.85zM1689.50 197.0h1.05V211.1h-1.05zM1690.50 189.4h1.25V206.3h-1.25zM1691.70 190.0h1.95V205.7h-1.95zM1693.60 190.6h1.25V203.7h-1.25zM1694.80 191.1h1.25V212.6h-1.25zM1696.00 191.5h0.85V209.7h-0.85zM1696.80 191.8h0.65V212.5h-0.65zM1697.40 192.1h0.65V197.9h-0.65zM1698.00 192.4h0.85V220.1h-0.85zM1698.80 192.7h0.85V210.0h-0.85zM1699.60 193.1h1.55V213.1h-1.55zM1701.10 193.7h1.25V221.6h-1.25zM1702.30 194.1h1.05V219.1h-1.05zM1703.30 194.6h1.25V224.1h-1.25zM1704.50 195.1h1.25V228.7h-1.25zM1705.70 195.7h1.95V221.1h-1.95zM1707.60 196.2h0.65V222.4h-0.65zM1708.20 196.8h0.65V202.8h-0.65zM1708.80 198.0h1.25V224.2h-1.25zM1710.00 199.8h1.55V216.1h-1.55zM1711.50 202.0h1.95V220.4h-1.95zM1713.40 203.8h0.85V223.6h-0.85zM1714.20 205.7h1.25V218.2h-1.25zM1715.40 208.2h0.65V225.4h-0.65zM1716.00 210.7h1.25V228.4h-1.25zM1717.20 213.5h0.85V230.1h-0.85zM1718.00 216.3h1.25V230.5h-1.25zM1719.20 221.1h1.55V240.3h-1.55zM1720.70 231.7h1.25V246.5h-1.25zM1721.90 222.5h1.05V245.2h-1.05zM1722.90 190.9h1.25V203.0h-1.25zM1724.10 193.2h1.95V208.8h-1.95zM1726.00 196.1h1.95V217.0h-1.95zM1727.90 198.2h1.25V216.4h-1.25zM1729.10 199.6h1.05V218.6h-1.05zM1730.10 201.0h1.25V207.4h-1.25zM1731.30 185.7h1.05V205.6h-1.05zM1732.30 184.6h1.05V200.2h-1.05zM1733.30 184.5h0.65V199.6h-0.65zM1733.90 184.4h1.05V199.9h-1.05zM1734.90 184.3h0.85V200.9h-0.85zM1735.70 184.3h1.25V200.2h-1.25zM1736.90 184.4h1.25V201.4h-1.25zM1738.10 184.9h1.95V211.6h-1.95zM1740.00 186.1h1.95V210.0h-1.95zM1741.90 183.4h1.95V203.1h-1.95zM1743.80 185.1h1.95V201.4h-1.95zM1745.70 188.4h1.25V203.7h-1.25zM1746.90 187.1h0.65V205.1h-0.65zM1747.50 187.9h0.85V210.3h-0.85zM1748.30 189.1h1.25V206.2h-1.25zM1749.50 190.6h1.25V208.3h-1.25zM1750.70 178.5h1.55V188.3h-1.55zM1752.20 178.6h1.05V195.8h-1.05zM1753.20 178.8h1.95V199.4h-1.95zM1755.10 179.0h1.25V211.2h-1.25zM1756.30 179.1h0.65V205.3h-0.65zM1756.90 179.3h1.95V187.0h-1.95zM1758.80 179.6h1.95V206.6h-1.95zM1760.70 180.0h0.65V199.6h-0.65zM1761.30 180.2h0.85V186.6h-0.85zM1762.10 180.6h1.95V194.1h-1.95zM1764.00 181.5h1.95V200.3h-1.95zM1765.90 182.5h1.55V206.8h-1.55zM1767.40 183.5h1.05V202.8h-1.05zM1768.40 185.0h1.55V188.6h-1.55zM1769.90 186.9h1.05V205.0h-1.05zM1770.90 183.4h1.55V210.1h-1.55zM1772.40 184.7h1.05V208.0h-1.05zM1773.40 185.5h0.65V204.1h-0.65zM1774.00 186.4h1.05V211.8h-1.05zM1775.00 187.3h0.65V201.0h-0.65zM1775.60 188.8h1.95V206.1h-1.95zM1777.50 193.4h1.55V196.1h-1.55zM1779.00 201.7h0.65V204.4h-0.65zM1779.60 192.5h1.25V208.0h-1.25zM1780.80 178.7h1.55V203.8h-1.55zM1782.30 179.2h1.55V201.2h-1.55zM1783.80 179.7h1.95V198.9h-1.95zM1785.70 180.1h0.85V185.4h-0.85zM1786.50 180.5h1.95V194.0h-1.95zM1788.40 180.9h0.85V198.5h-0.85zM1789.20 181.1h0.65V201.4h-0.65zM1789.80 181.3h1.05V196.8h-1.05zM1790.80 181.6h1.05V200.0h-1.05zM1791.80 181.9h1.05V198.0h-1.05zM1792.80 182.1h0.65V206.9h-0.65zM1793.40 182.3h0.65V204.5h-0.65zM1794.00 182.5h0.65V202.5h-0.65zM1794.60 183.7h1.95V201.5h-1.95zM1796.50 185.4h0.65V201.5h-0.65zM1797.10 187.1h1.95V204.2h-1.95zM1799.00 189.2h1.25V204.0h-1.25zM1800.20 191.0h1.25V208.3h-1.25zM1801.40 192.8h0.65V208.5h-0.65zM1802.00 195.7h1.95V227.1h-1.95zM1803.90 198.8h0.65V220.1h-0.65zM1804.50 201.2h1.25V211.2h-1.25zM1805.70 207.1h0.85V240.6h-0.85zM1806.50 211.2h0.65V240.0h-0.65zM1807.10 204.4h1.95V233.4h-1.95zM1809.00 182.5h0.65V202.5h-0.65zM1809.60 183.4h1.25V203.0h-1.25zM1810.80 184.5h1.05V196.8h-1.05zM1811.80 185.3h0.65V186.8h-0.65zM1812.40 186.5h1.95V208.1h-1.95zM1814.30 188.1h1.25V209.5h-1.25zM1815.50 189.2h0.85V210.0h-0.85zM1816.30 191.5h1.55V194.6h-1.55zM1817.80 194.5h1.55V207.7h-1.55zM1819.30 196.8h0.85V213.0h-0.85zM1820.10 187.5h1.05V205.7h-1.05zM1821.10 180.2h1.25V215.9h-1.25zM1822.30 180.4h1.25V214.8h-1.25zM1823.50 180.7h1.55V203.5h-1.55zM1825.00 181.1h1.55V206.1h-1.55zM1826.50 181.4h1.55V203.3h-1.55zM1828.00 181.7h0.65V203.1h-0.65zM1828.60 181.9h1.05V207.1h-1.05zM1829.60 182.1h0.85V203.8h-0.85zM1830.40 182.4h1.55V198.6h-1.55zM1831.90 182.7h1.25V196.3h-1.25zM1833.10 182.9h1.05V200.3h-1.05zM1834.10 183.1h0.65V201.0h-0.65zM1834.70 183.4h1.55V214.3h-1.55zM1836.20 183.8h1.55V216.2h-1.55zM1837.70 185.0h1.05V210.8h-1.05zM1838.70 186.1h1.25V205.9h-1.25zM1839.90 187.7h1.95V206.7h-1.95zM1841.80 189.4h1.55V194.0h-1.55zM1843.30 191.1h1.95V209.1h-1.95zM1845.20 192.3h0.65V212.8h-0.65zM1845.80 192.9h0.65V212.0h-0.65zM1846.40 193.5h0.65V215.3h-0.65zM1847.00 194.4h1.05V215.7h-1.05zM1848.00 196.1h1.25V215.4h-1.25zM1849.20 197.6h0.85V218.5h-0.85zM1850.00 199.6h1.95V230.2h-1.95zM1851.90 183.3h1.05V212.7h-1.05zM1852.90 178.5h0.85V217.3h-0.85zM1853.70 178.6h1.25V203.3h-1.25zM1854.90 178.9h1.95V204.3h-1.95zM1856.80 179.0h1.05V210.8h-1.05zM1857.80 179.2h1.55V203.2h-1.55zM1859.30 179.4h0.85V215.0h-0.85zM1860.10 179.5h1.25V203.4h-1.25zM1861.30 179.6h1.05V215.5h-1.05zM1862.30 179.8h1.55V215.8h-1.55zM1863.80 180.0h1.05V205.9h-1.05zM1864.80 180.1h0.85V199.9h-0.85zM1865.60 180.2h0.65V214.8h-0.65zM1866.20 180.3h1.25V214.5h-1.25zM1867.40 180.4h0.65V211.4h-0.65zM1868.00 180.5h0.65V201.8h-0.65zM1868.60 180.7h1.05V211.6h-1.05zM1869.60 181.1h1.95V204.0h-1.95zM1871.50 181.4h0.85V204.1h-0.85zM1872.30 181.7h1.95V199.5h-1.95zM1874.20 182.1h1.05V199.1h-1.05zM1875.20 182.4h1.55V209.0h-1.55zM1876.70 182.7h0.65V204.2h-0.65zM1877.30 183.0h1.95V208.4h-1.95zM1879.20 183.3h0.65V200.2h-0.65zM1879.80 183.4h0.65V203.6h-0.65zM1880.40 183.6h1.05V200.6h-1.05zM1881.40 184.0h1.95V199.7h-1.95zM1883.30 184.4h1.05V200.8h-1.05zM1884.30 184.6h1.25V199.7h-1.25zM1885.50 186.5h0.85V206.8h-0.85zM1886.30 189.2h1.25V202.7h-1.25zM1887.50 191.7h0.65V212.3h-0.65zM1888.10 193.4h0.65V215.0h-0.65zM1888.70 197.3h1.95V215.6h-1.95zM1890.60 204.4h0.65V221.1h-0.65zM1891.20 207.8h0.65V224.8h-0.65zM1891.80 212.3h1.05V226.4h-1.05zM1892.80 218.4h0.65V230.8h-0.65zM1893.40 224.7h0.85V236.7h-0.85zM1894.20 234.7h1.25V244.6h-1.25zM1895.40 254.2h0.85V255.8h-0.85z" fill="#050505"/>
<path d="M1172.00 177.6V218.4M1173.06 177.6V213.5M1174.59 177.6V207.9M1175.69 177.8V198.0M1176.55 178.3V203.5M1178.41 181.2V234.2M1179.17 183.4V244.4M1180.78 185.2V227.6M1181.45 185.5V210.6M1182.34 187.5V213.3M1183.45 177.6V217.9M1184.12 177.8V218.3M1185.11 178.3V208.5M1185.76 178.6V206.2M1186.51 179.0V197.4M1187.50 179.6V198.3M1188.21 179.9V191.1M1189.04 180.2V191.3M1190.08 177.6V198.2M1191.16 177.9V207.3M1193.00 178.9V201.0M1193.81 179.7V203.2M1194.73 181.6V208.5M1195.58 177.6V222.6M1197.35 177.8V212.1M1199.49 178.0V194.8M1200.38 178.1V195.1M1201.51 178.4V194.1M1202.17 178.7V195.0M1202.78 178.9V194.5M1203.49 179.2V194.6M1204.41 180.2V204.1M1205.06 181.3V214.8M1205.69 181.9V207.2M1206.56 177.6V210.0M1207.39 177.6V209.5M1208.46 177.6V211.7M1209.47 177.6V213.1M1210.59 177.6V215.6M1211.65 177.6V216.6M1212.77 177.6V218.0M1213.50 177.6V208.8M1215.69 177.6V207.9M1217.31 177.6V210.9M1218.11 177.8V213.6M1218.95 178.3V212.5M1219.62 179.0V218.3M1220.74 180.7V215.2M1221.83 183.1V220.3M1222.78 185.6V212.4M1224.47 177.6V206.8M1225.31 177.6V213.6M1226.08 177.7V207.9M1227.00 177.8V213.4M1227.75 178.6V208.8M1228.43 179.5V206.4M1229.19 180.6V213.7M1229.93 181.7V212.4M1230.99 184.7V225.7M1231.95 187.9V220.3M1232.80 190.6V224.2M1233.66 195.2V222.6M1234.38 199.5V231.2M1235.30 211.3V233.9M1236.38 181.1V206.6M1238.01 181.6V209.0M1238.65 182.2V211.0M1239.28 182.7V207.0M1240.29 183.7V205.6M1241.41 184.7V212.8M1242.20 177.7V207.1M1243.14 177.7V212.9M1244.02 177.8V211.1M1245.04 178.0V210.2M1246.03 178.3V218.8M1247.11 178.8V208.1M1248.95 180.0V220.7M1250.03 180.7V222.0M1250.87 181.1V216.7M1251.64 181.4V213.0M1252.45 181.7V209.1M1253.51 181.9V206.9M1254.22 182.0V202.2M1255.13 182.9V206.1M1256.24 184.6V207.7M1257.30 186.4V217.2M1258.13 187.8V218.6M1258.76 189.0V216.3M1259.87 191.3V221.1M1261.02 178.0V217.6M1261.99 178.1V215.5M1263.89 178.7V217.8M1264.70 179.1V215.9M1266.48 180.4V217.7M1267.63 181.5V217.1M1268.68 182.8V215.4M1269.82 184.3V226.4M1270.48 178.0V228.1M1272.36 178.0V216.0M1273.24 178.0V222.8M1273.94 178.0V226.2M1274.73 178.0V234.7M1275.36 178.0V224.5M1276.13 178.0V231.5M1276.89 178.0V236.1M1277.86 178.1V224.1M1278.77 178.1V222.2M1279.66 178.1V229.3M1280.48 178.4V209.2M1281.50 179.1V208.6M1282.20 179.9V216.1M1283.13 181.4V222.4M1283.74 182.7V223.3M1284.73 185.4V219.7M1286.40 191.6V224.4M1288.13 178.2V228.7M1289.07 178.3V211.5M1290.19 178.6V213.4M1291.28 178.7V205.8M1292.21 179.0V206.7M1293.33 179.4V199.7M1294.33 179.8V199.3M1295.41 180.5V202.9M1296.14 181.0V201.0M1296.85 181.6V209.3M1297.76 178.3V200.6M1298.57 178.8V204.1M1299.24 179.5V208.9M1299.97 180.5V202.6M1300.70 181.9V201.6M1301.49 183.7V203.5M1302.14 185.5V205.1M1302.81 178.1V205.9M1303.85 178.2V202.9M1305.56 178.7V212.9M1306.29 179.1V207.3M1308.20 180.3V206.4M1309.80 181.7V207.6M1310.55 182.5V210.1M1311.51 183.5V207.8M1312.33 184.5V203.2M1313.40 186.9V208.7M1314.06 178.2V212.2M1314.93 178.3V210.5M1315.70 178.6V210.6M1316.70 179.1V213.0M1318.87 181.3V214.2M1319.49 182.1V223.9M1320.28 183.3V219.5M1321.26 184.7V216.0M1322.06 186.2V220.3M1322.72 188.1V222.8M1323.71 190.2V212.0M1324.40 191.6V213.6M1325.21 180.6V208.2M1326.16 180.9V209.5M1327.08 181.2V215.9M1327.92 181.6V213.5M1328.52 181.9V213.9M1330.21 182.7V202.0M1330.87 183.0V207.6M1331.97 183.7V208.5M1332.95 184.6V208.4M1334.01 185.8V210.6M1336.11 188.3V218.2M1337.06 189.5V215.6M1338.04 190.8V215.9M1339.15 192.4V213.6M1339.77 193.4V219.8M1341.47 184.2V217.0M1342.10 184.3V213.9M1342.81 184.5V212.6M1343.80 184.7V216.0M1344.53 185.4V213.5M1345.65 186.8V210.7M1346.74 188.1V209.3M1347.52 189.0V217.3M1348.54 190.2V212.1M1349.47 192.0V216.6M1350.52 195.9V215.2M1351.32 198.9V217.7M1352.08 201.7V219.1M1352.92 203.4V206.1M1353.78 180.5V192.3M1355.43 180.5V199.5M1356.57 180.5V209.2M1357.44 180.5V211.5M1360.25 180.5V214.7M1360.93 180.5V210.2M1361.99 180.5V212.5M1363.63 180.5V215.1M1364.64 180.5V207.1M1365.70 180.5V203.0M1366.60 180.6V205.9M1367.33 180.6V201.3M1368.28 180.7V207.5M1369.38 181.3V206.4M1370.25 181.9V198.4M1371.17 182.9V197.7M1372.51 184.6V197.4M1373.21 185.7V201.6M1374.28 180.8V201.8M1375.11 180.9V198.3M1375.99 181.0V200.7M1376.83 181.2V204.1M1377.93 181.7V201.1M1378.78 182.2V205.7M1379.48 182.7V202.0M1382.35 181.0V211.9M1383.33 181.0V209.6M1384.24 181.1V213.4M1385.20 181.3V203.5M1386.28 181.5V198.5M1387.26 181.7V204.4M1388.22 181.9V206.0M1389.05 182.1V208.4M1389.87 182.2V203.1M1390.96 182.5V206.1M1392.03 182.7V202.2M1392.92 182.8V203.0M1393.83 183.0V204.7M1394.49 183.2V209.1M1395.13 183.3V209.5M1395.97 183.5V213.6M1396.97 183.7V208.3M1398.11 183.9V203.2M1399.17 184.1V201.9M1400.30 184.3V210.8M1400.97 184.4V216.4M1401.70 184.5V210.7M1402.63 184.7V207.7M1404.56 185.0V214.5M1405.66 185.2V218.0M1406.67 185.4V214.1M1407.65 185.5V217.2M1409.45 185.8V205.7M1410.11 185.9V210.2M1410.77 186.0V213.2M1411.51 186.2V205.8M1412.57 186.3V208.5M1413.18 186.5V204.0M1413.88 186.6V208.5M1414.86 186.7V208.6M1415.94 186.9V212.1M1416.99 187.1V217.1M1417.77 187.2V208.3M1418.85 184.5V213.9M1419.55 178.5V209.6M1420.37 178.6V201.1M1422.37 179.0V196.2M1423.09 179.1V203.6M1423.71 179.2V197.7M1424.57 179.4V202.3M1425.37 179.5V198.0M1426.15 179.6V199.0M1427.29 179.8V200.5M1428.26 180.0V204.0M1429.14 180.2V204.3M1430.65 180.6V208.2M1431.73 180.9V211.1M1432.67 181.1V206.5M1434.69 181.6V204.0M1435.69 181.9V204.9M1436.49 182.1V204.4M1437.12 182.2V203.0M1438.26 182.5V205.6M1439.00 182.8V204.0M1440.52 183.5V207.8M1441.29 183.9V207.4M1442.05 184.2V211.2M1442.96 184.7V217.0M1444.06 185.2V211.2M1445.56 185.9V213.6M1446.63 186.4V209.6M1447.73 186.9V215.4M1448.34 187.2V214.5M1449.33 187.7V210.9M1451.00 180.0V206.8M1452.13 180.0V215.6M1453.17 180.0V220.4M1453.85 180.0V207.3M1455.64 180.1V200.6M1456.60 180.1V203.9M1457.39 180.1V202.2M1458.01 180.1V210.4M1458.88 180.1V212.6M1460.65 180.1V219.1M1461.59 180.1V214.3M1462.24 180.2V206.3M1463.26 180.2V204.3M1464.09 180.2V208.8M1465.00 180.2V210.4M1465.78 180.2V211.6M1466.77 180.2V212.2M1468.39 180.2V206.9M1469.51 180.2V205.4M1470.37 180.3V212.0M1471.17 180.3V216.1M1472.19 180.3V205.1M1472.86 180.3V204.8M1474.57 180.3V205.8M1475.57 180.3V213.8M1476.19 180.3V211.3M1477.33 180.4V206.8M1478.12 180.4V209.7M1478.90 180.4V210.7M1479.90 180.4V201.8M1480.72 180.4V210.3M1482.75 180.6V207.8M1483.49 180.8V204.0M1484.22 180.9V203.4M1485.89 181.5V211.2M1486.96 182.1V220.0M1487.98 182.8V224.3M1489.45 183.4V218.3M1491.01 182.2V211.5M1492.04 181.8V206.1M1493.12 181.9V202.9M1494.33 182.9V203.4M1495.34 183.8V198.4M1496.31 179.3V197.8M1498.56 179.9V199.0M1499.59 180.3V206.3M1500.47 180.7V202.6M1501.90 181.3V206.8M1502.77 181.7V198.6M1503.47 182.1V201.6M1504.48 183.1V201.1M1507.15 187.0V212.8M1507.85 188.3V210.6M1508.47 189.5V215.4M1509.38 191.1V215.1M1510.35 190.5V209.4M1512.34 185.9V206.1M1513.93 187.6V211.0M1514.60 188.5V220.3M1515.54 189.7V220.1M1516.47 191.1V215.0M1517.18 192.2V213.0M1518.21 190.0V217.8M1519.20 190.7V207.4M1522.31 181.8V203.6M1523.12 182.3V206.3M1524.01 183.0V207.5M1524.78 183.6V209.5M1525.51 184.2V209.9M1526.61 185.0V208.6M1527.49 185.7V208.7M1528.17 186.3V213.0M1529.06 187.0V209.3M1529.79 188.0V207.4M1530.64 189.3V213.5M1531.74 191.0V218.1M1532.55 192.4V219.6M1533.21 193.6V214.4M1533.87 188.9V216.1M1534.76 189.7V217.7M1535.57 190.5V224.3M1536.42 191.2V218.7M1537.44 192.1V215.5M1538.24 192.9V220.1M1539.04 193.6V216.0M1539.65 194.1V211.0M1540.29 188.7V205.7M1541.04 183.8V202.8M1542.10 184.4V201.8M1543.17 185.0V203.7M1544.20 185.5V208.1M1544.83 185.9V206.8M1545.82 186.9V205.8M1546.78 188.0V210.4M1548.29 190.5V211.9M1549.10 192.0V209.9M1549.74 193.4V211.0M1551.64 189.5V206.2M1552.50 190.0V210.5M1554.17 190.9V212.0M1555.22 191.3V215.6M1556.04 191.5V211.2M1556.95 191.8V220.6M1557.61 192.0V216.1M1558.66 192.3V216.8M1559.67 192.6V223.0M1560.65 192.9V223.8M1561.28 193.1V222.9M1562.20 193.4V225.2M1563.28 193.7V215.2M1564.92 194.2V215.2M1565.66 184.0V211.3M1566.54 184.5V205.8M1567.31 184.8V208.5M1568.38 185.4V202.7M1569.01 185.7V206.1M1569.86 186.2V207.3M1570.66 186.7V211.6M1571.77 184.5V206.9M1572.54 181.0V204.4M1573.45 181.1V200.5M1574.49 181.5V203.9M1575.53 182.0V211.1M1577.28 183.0V213.8M1577.90 183.4V219.9M1579.74 184.7V220.6M1580.71 184.8V214.2M1581.43 184.8V212.4M1582.53 184.6V201.6M1584.01 185.5V205.6M1585.11 180.1V207.6M1585.74 180.1V208.9M1586.80 180.1V206.2M1587.72 180.0V207.2M1588.41 180.0V214.5M1589.47 180.0V205.5M1590.61 180.1V208.7M1591.42 180.1V209.8M1592.32 180.2V201.2M1593.32 180.2V202.6M1593.98 180.3V205.8M1595.98 180.4V199.4M1598.57 180.7V199.5M1601.72 181.3V211.9M1602.35 181.5V205.9M1603.08 181.7V210.8M1604.12 182.1V206.8M1605.02 182.4V205.2M1606.06 182.8V211.5M1606.67 183.2V212.4M1607.63 183.8V210.3M1608.42 184.4V215.6M1610.76 185.2V208.9M1611.84 185.4V206.3M1612.74 185.9V206.5M1613.43 181.4V212.7M1614.23 181.6V211.0M1614.94 181.9V212.3M1616.63 183.0V217.9M1617.67 183.7V208.1M1618.39 184.0V205.8M1619.14 184.8V200.2M1620.67 187.9V210.0M1621.60 182.0V215.1M1622.23 182.1V210.5M1623.37 182.3V211.0M1624.35 182.5V219.4M1626.00 182.8V215.6M1626.83 183.1V206.9M1627.83 183.5V215.6M1628.62 183.8V210.2M1630.49 184.7V218.9M1632.38 185.5V215.2M1633.32 185.9V216.6M1633.97 186.3V214.9M1634.66 183.3V217.6M1635.67 183.5V207.7M1636.79 183.9V216.3M1637.84 184.4V215.6M1638.68 185.0V218.7M1640.65 187.3V226.9M1641.79 189.0V227.1M1642.85 190.8V220.6M1643.70 191.7V218.2M1644.80 192.7V219.7M1645.62 184.5V217.4M1646.59 184.6V214.9M1647.41 184.7V203.2M1648.47 185.1V201.5M1649.53 186.1V202.6M1650.40 186.8V200.4M1651.45 187.7V206.7M1652.30 188.4V208.9M1653.10 189.1V216.5M1653.86 189.8V211.3M1654.84 190.6V217.7M1655.89 191.5V215.6M1656.51 192.0V224.8M1657.26 192.3V227.7M1657.98 192.5V227.8M1659.07 192.8V222.4M1660.90 193.3V226.6M1661.79 193.5V214.4M1662.91 186.9V214.8M1663.65 180.6V208.5M1664.55 181.0V202.5M1666.33 181.6V193.3M1667.17 182.0V199.2M1668.14 182.3V198.2M1670.53 183.2V201.8M1671.44 183.6V199.9M1672.53 184.0V202.7M1673.14 184.2V200.3M1674.27 184.7V205.2M1675.19 184.9V203.6M1676.01 185.2V205.8M1676.76 185.4V206.9M1678.62 186.2V209.7M1679.43 186.6V212.1M1680.41 187.2V207.3M1681.32 187.9V213.5M1682.12 188.6V207.9M1683.20 189.6V208.8M1683.89 190.3V210.5M1685.78 192.4V210.7M1686.90 193.7V210.6M1687.74 194.6V209.6M1690.16 197.1V213.1M1691.18 189.4V208.0M1692.20 189.8V210.0M1693.17 190.2V213.3M1693.97 190.6V215.5M1694.73 190.9V213.7M1695.75 191.3V209.3M1697.41 191.9V213.1M1698.31 192.3V219.7M1699.14 192.7V221.7M1700.86 193.3V223.5M1701.67 193.7V227.8M1702.46 194.0V222.1M1704.15 194.7V225.0M1705.24 195.1V221.0M1705.88 195.4V225.0M1706.95 195.8V229.1M1707.77 196.2V228.6M1708.83 197.2V229.3M1709.52 198.1V226.3M1711.40 200.6V223.0M1712.48 202.1V216.1M1713.47 203.4V221.6M1714.11 204.2V223.0M1714.86 205.8V221.9M1716.55 210.6V227.1M1717.19 212.3V232.1M1717.79 214.0V232.3M1718.54 216.1V231.0M1719.45 218.7V240.0M1720.50 225.5V239.4M1721.45 232.9V245.3M1722.36 225.0V245.7M1723.08 190.3V203.1M1723.97 191.6V204.8M1724.59 192.5V210.4M1725.22 193.5V213.9M1726.14 194.9V215.7M1729.00 198.8V231.0M1729.86 199.9V219.5M1730.84 201.2V221.4M1731.62 189.7V212.3M1732.38 184.7V208.6M1733.26 184.6V207.9M1734.25 184.4V204.7M1737.17 184.3V209.9M1738.88 184.8V211.8M1739.67 185.3V208.1M1740.82 186.0V210.2M1742.56 183.4V210.1M1743.21 183.4V206.4M1745.11 185.8V210.0M1745.78 187.2V206.9M1746.66 189.3V208.5M1747.27 187.2V215.2M1748.39 188.5V217.7M1749.40 189.7V213.3M1750.46 191.0V212.3M1751.18 178.4V194.9M1751.78 178.5V197.8M1753.53 178.7V196.4M1754.47 178.8V207.4M1755.42 179.0V203.5M1756.52 179.1V209.2M1757.45 179.2V205.4M1758.30 179.3V208.6M1759.29 179.5V204.1M1760.29 179.8V198.3M1761.11 180.0V203.6M1761.84 180.2V203.0M1763.63 180.8V197.7M1764.77 181.4V200.3M1765.80 182.0V206.7M1766.81 182.6V200.7M1767.95 183.5V209.0M1770.25 186.7V212.0M1770.93 182.8V203.0M1771.59 183.4V213.0M1772.29 184.0V211.5M1773.17 184.9V204.9M1774.26 186.1V212.9M1775.33 187.4V209.6M1776.21 188.4V210.3M1777.25 189.7V206.0M1778.15 192.6V208.2M1778.75 197.4V211.1M1779.81 204.8V210.8M1780.47 184.1V208.7M1782.21 178.9V202.1M1783.21 179.2V204.4M1783.87 179.4V198.6M1784.89 179.7V196.5M1786.03 180.1V202.1M1786.67 180.2V197.1M1787.60 180.5V201.0M1788.42 180.8V202.2M1789.52 181.1V204.0M1790.63 181.4V207.5M1791.24 181.6V207.4M1792.08 181.8V211.3M1793.20 182.2V207.0M1793.94 182.4V204.6M1794.72 182.6V201.6M1797.89 186.8V204.2M1798.72 188.0V204.7M1799.80 189.5V216.3M1801.86 193.2V219.8M1802.92 195.6V221.4M1804.41 199.4V231.5M1805.30 201.9V241.7M1807.06 212.6V235.5M1808.16 199.6V225.7M1809.15 186.0V213.4M1809.99 183.1V202.0M1811.00 184.2V205.2M1811.74 184.9V201.2M1813.41 186.6V210.2M1814.34 187.5V211.4M1814.97 188.1V205.6M1815.77 188.9V206.0M1816.64 190.7V211.9M1817.40 192.2V210.0M1818.05 193.5V207.2M1819.03 195.4V210.4M1819.68 196.7V215.1M1820.74 185.2V207.9M1821.46 180.1V219.2M1822.43 180.3V211.7M1823.14 180.5V218.4M1824.10 180.7V211.5M1824.80 180.9V204.6M1825.94 181.1V204.5M1826.85 181.4V202.0M1827.46 181.5V207.8M1828.59 181.8V203.1M1829.27 181.9V206.9M1830.07 182.1V204.3M1830.80 182.3V206.7M1831.61 182.5V206.3M1832.32 182.6V202.6M1833.12 182.8V208.1M1834.20 183.1V203.9M1835.26 183.3V207.5M1836.10 183.5V207.5M1837.09 183.9V208.4M1837.96 184.8V209.5M1838.80 185.6V208.9M1840.50 187.3V208.6M1842.64 189.5V217.0M1843.76 190.6V214.6M1844.45 191.3V218.5M1845.95 192.8V218.4M1846.80 193.6V215.2M1847.77 194.8V217.7M1848.91 196.5V223.6M1849.51 197.4V228.2M1850.13 198.3V228.6M1851.02 199.7V229.1M1851.96 192.6V223.7M1853.00 178.5V219.6M1854.77 178.7V211.9M1855.86 178.9V211.1M1856.48 178.9V217.7M1857.19 179.0V222.4M1858.31 179.2V214.4M1858.91 179.3V220.9M1860.65 179.5V218.4M1861.37 179.6V216.3M1862.52 179.7V211.4M1863.64 179.9V209.7M1864.43 180.0V214.3M1865.24 180.1V207.8M1865.84 180.2V213.7M1866.69 180.3V213.3M1867.36 180.4V209.1M1868.49 180.5V208.1M1870.01 180.9V209.5M1870.93 181.2V212.0M1874.63 182.1V203.5M1876.22 182.5V207.5M1877.26 182.7V207.8M1877.93 182.9V203.4M1879.98 183.4V201.5M1881.07 183.7V203.7M1882.05 183.9V201.6M1882.85 184.1V204.0M1883.50 184.3V206.0M1884.35 184.5V205.8M1884.96 184.7V204.4M1885.95 186.6V206.3M1887.08 189.7V210.6M1887.91 192.0V215.3M1889.47 196.3V219.6M1890.43 201.7V224.4M1891.15 205.8V223.4M1891.77 209.3V225.8M1892.61 214.1V229.4M1893.72 224.0V241.3M1894.71 232.9V247.7M1895.58 254.1V255.7" stroke="#000" stroke-width="0.75" fill="none"/>
<path d="M1173.93 177.6V206.3M1177.26 179.1V211.6M1180.17 184.7V224.5M1192.26 178.5V205.2M1196.57 177.7V225.1M1198.36 177.8V194.5M1214.64 177.6V210.3M1216.57 177.6V214.2M1223.53 187.3V214.1M1237.25 180.4V198.1M1248.03 179.3V218.8M1262.92 178.3V214.9M1265.61 179.7V223.8M1271.53 178.0V230.5M1285.48 187.9V218.0M1287.21 178.1V217.2M1304.85 178.5V205.8M1307.28 179.6V205.4M1309.14 181.1V204.5M1317.80 180.0V222.4M1329.27 182.2V203.5M1335.13 187.1V214.1M1340.52 184.0V217.6M1354.42 180.5V195.0M1358.34 180.5V209.2M1359.29 180.5V222.3M1362.94 180.5V217.8M1371.86 183.7V200.2M1380.34 183.4V211.6M1381.41 181.0V213.1M1403.62 184.9V208.6M1408.45 185.7V213.9M1421.44 178.8V198.3M1430.03 180.5V212.3M1433.71 181.4V210.8M1439.67 183.1V202.5M1444.76 185.5V210.1M1450.04 185.6V211.1M1454.93 180.1V206.6M1459.74 180.1V207.1M1467.54 180.2V212.6M1473.76 180.3V206.3M1481.63 180.5V205.5M1485.17 181.2V205.1M1488.76 183.5V221.7M1490.30 183.4V211.7M1493.73 182.4V197.1M1497.42 179.6V204.5M1501.13 181.0V200.2M1505.27 184.1V203.9M1506.06 185.3V204.2M1511.26 185.2V201.3M1513.11 186.7V207.5M1520.10 183.9V201.7M1520.70 180.8V201.5M1521.58 181.4V201.6M1547.59 189.3V208.8M1550.63 189.0V209.4M1553.33 190.4V211.2M1564.17 194.0V213.2M1576.64 182.7V213.5M1578.83 184.1V211.8M1583.18 184.7V204.9M1595.09 180.3V206.3M1596.99 180.5V200.4M1597.64 180.6V199.8M1599.25 180.8V199.2M1600.31 181.0V202.2M1600.93 181.2V207.7M1609.11 184.8V212.7M1609.90 185.0V219.3M1616.02 182.6V215.6M1620.02 186.4V205.2M1625.40 182.7V211.8M1629.34 184.2V213.8M1631.36 185.0V217.8M1639.76 186.1V215.4M1660.20 193.1V224.7M1665.36 181.3V197.2M1669.02 182.7V199.3M1669.90 183.0V198.1M1677.66 185.7V205.2M1684.66 191.1V211.6M1688.56 195.4V211.3M1689.31 196.2V209.8M1696.66 191.6V213.1M1699.91 193.0V221.3M1703.25 194.3V220.2M1710.39 199.3V226.3M1715.51 207.6V226.9M1727.07 196.3V217.6M1728.22 197.8V228.2M1735.16 184.3V209.2M1736.17 184.3V211.2M1737.88 184.5V204.0M1741.51 186.5V210.3M1744.07 183.9V214.9M1752.64 178.6V193.6M1762.70 180.5V198.1M1768.58 184.1V204.5M1769.30 185.2V209.4M1781.31 178.7V201.3M1795.86 184.1V205.0M1796.87 185.5V204.9M1800.83 191.0V218.6M1803.72 197.6V228.1M1806.41 209.0V243.5M1812.46 185.6V204.8M1839.60 186.4V212.8M1841.51 188.4V213.7M1845.10 191.9V213.2M1854.07 178.6V213.0M1859.78 179.4V212.6M1869.38 180.8V213.9M1872.02 181.4V213.5M1873.15 181.7V207.6M1873.97 181.9V204.4M1875.39 182.3V212.9M1878.85 183.1V207.7M1888.74 194.3V218.7" stroke="#3a3a3a" stroke-width="0.6" fill="none"/>
<path d="M1177.14 177.9H1183.33V191.7M1185.44 177.9H1189.35V180.5M1191.38 177.9H1195.16V182.6M1199.03 177.9H1206.23V182.5M1219.53 177.9H1223.91V188.1M1248.71 178.3H1260.84V193.1M1264.01 178.3H1269.90V184.4M1281.85 178.4H1286.75V192.9M1290.32 178.4H1296.96V181.6M1299.00 178.4H1302.79V187.3M1306.64 178.5H1313.78V187.8M1369.80 181.1H1374.13V187.2M1376.62 181.3H1381.26V184.3M1485.43 179.6H1496.16V184.5M1573.58 180.4H1584.69V186.2M1601.16 181.6H1613.13V186.3M1616.01 182.3H1621.37V189.6M1626.01 183.6H1634.62V186.6M1638.42 184.8H1645.49V193.2M1737.47 183.7H1742.20V186.9M1228.72 184.2H1234.02V195.0M1315.83 179.4H1327.24V181.1M1328.57 179.8H1334.59V182.7M1332.94 180.6H1339.70V183.8M1341.10 180.9H1344.60V185.5M1343.69 181.4H1347.52V189.0M1347.77 187.3H1353.14V193.7M1382.03 180.1H1385.49V181.4M1382.29 180.7H1388.76V182.0M1384.67 180.1H1394.85V183.2M1393.08 180.1H1401.36V184.5M1394.58 182.4H1404.81V185.1M1407.43 181.0H1411.27V186.1M1412.84 182.9H1417.09V187.1M1429.35 179.7H1434.67V181.6M1429.77 180.8H1439.29V182.9M1436.96 182.0H1441.94V184.2M1436.68 182.7H1445.90V186.1M1503.17 182.0H1508.96V183.9M1509.54 183.2H1513.04V186.3M1515.14 181.2H1518.58V190.2M1512.27 179.7H1523.65V182.1M1525.76 181.9H1530.54V185.9M1525.95 183.4H1533.64V188.7M1530.19 186.8H1537.95V192.6M1540.70 180.3H1544.33V185.6M1543.49 182.9H1548.76V188.0M1548.74 182.4H1554.61V191.1M1549.56 186.8H1559.49V192.6M1552.50 185.2H1563.85V193.9M1567.07 183.0H1571.02V186.7M1597.09 179.8H1605.66V180.9M1599.90 179.3H1609.66V181.1M1612.24 180.0H1616.01V181.5M1608.81 179.5H1620.48V181.9M1613.33 180.0H1623.24V182.2M1622.78 179.7H1626.41V182.5M1619.24 180.7H1629.73V182.8M1623.20 180.0H1633.08V183.2M1633.60 180.6H1637.71V183.7M1637.37 182.7H1641.42V184.0M1634.20 182.2H1645.22V184.4M1640.63 183.0H1652.24V188.4M1650.58 183.3H1657.76V192.4M1665.27 179.8H1670.01V183.0M1666.98 180.3H1677.30V185.5M1676.20 181.2H1681.50V186.7M1682.01 185.7H1686.34V188.1M1688.56 182.8H1693.12V190.2M1694.65 183.8H1699.34V192.7M1693.17 189.0H1703.93V194.6M1699.44 181.9H1709.31V197.8M1703.27 197.4H1714.84V205.8M1708.61 204.2H1718.98V217.3M1716.43 185.2H1722.81V195.9M1723.08 185.4H1727.07V196.3M1724.01 194.3H1730.71V201.1M1726.58 182.5H1736.38V184.1M1729.87 182.2H1740.11V183.7M1737.77 184.0H1747.56V187.5M1766.92 180.6H1774.77V186.2M1772.85 191.0H1778.95V197.8M1788.16 181.0H1792.41V181.9M1790.51 185.0H1799.60V189.1M1794.53 182.7H1805.37V200.1M1804.55 181.0H1810.61V183.8M1806.19 186.6H1817.02V191.4M1815.35 182.0H1820.59V187.6M1817.56 179.3H1827.73V181.6M1827.75 179.6H1831.36V182.4M1830.41 180.4H1837.57V184.4M1830.49 185.2H1842.08V188.9M1835.08 186.3H1846.13V193.0M1841.38 193.2H1850.98V199.6M1859.84 180.0H1870.30V181.0M1868.65 180.4H1875.40V182.3M1877.43 181.7H1882.30V184.0M1874.98 182.4H1886.61V188.4M1881.36 186.8H1892.59V214.0" stroke="#111" stroke-width="0.65" fill="none"/>
<path d="M1179.74 177.6V260.5M1180.34 177.6V248.6M1191.84 177.6V242.6M1192.44 177.6V232.3M1206.05 177.6V238.4M1206.65 177.6V225.2M1223.42 177.6V243.7M1224.02 177.6V233.4M1239.74 177.6V247.9M1240.34 177.6V241.0M1252.37 177.8V248.9M1252.97 177.8V237.7M1263.42 178.0V265.8M1264.02 178.0V251.6M1274.47 178.0V244.7M1275.07 178.0V230.8M1289.21 178.1V248.9M1289.81 178.1V239.4M1298.68 178.1V220.5M1299.28 178.1V212.3M1316.05 178.2V251.1M1316.65 178.2V237.6M1362.89 180.5V243.7M1363.49 180.5V229.7M1389.74 182.2V221.6M1390.34 182.2V213.4M1410.26 186.0V223.2M1410.86 186.0V208.3M1467.63 180.2V236.3M1468.23 180.2V220.4M1481.84 180.4V232.6M1482.44 180.4V222.3M1490.79 179.5V242.6M1491.39 179.5V232.8M1527.11 183.7V227.4M1527.71 183.7V214.3M1602.05 180.7V236.3M1602.65 180.7V221.0M1659.74 193.0V247.4M1660.34 193.0V239.4M1667.63 182.1V215.8M1668.23 182.1V206.8M1687.63 188.4V235.8M1688.23 188.4V226.5M1765.79 180.2V231.6M1766.39 180.2V218.3M1782.32 179.0V238.4M1782.92 179.0V230.6M1786.95 180.3V247.9M1787.55 180.3V236.4M1867.89 180.5V245.8M1868.49 180.5V234.8M1172.40 177.6V360.0M1173.00 177.6V347.3M1174.60 177.6V352.0M1175.20 177.6V344.6" stroke="#111" stroke-width="0.8" fill="none"/>
<path d="M1241.84 177.7V236.3M1247.11 177.7V233.2M1260.26 177.9V262.6M1507.11 182.9V227.9M1596.58 180.4V263.2M1172.90 177.6V428.4M1175.30 177.6V370.0M1177.70 177.6V338.4M1185.00 177.6V331.4M1187.90 177.6V348.4M1186.50 177.6V300.0M1194.70 177.6V292.0M1197.20 177.6V308.2M1196.00 177.6V280.0M1258.10 177.9V287.9M1257.30 177.9V262.0M1428.50 180.1V300.4M1594.50 180.3V271.0" stroke="#6e6a69" stroke-width="0.9" fill="none"/>
<line x1="1171.8" x2="1896.0" y1="177.5" y2="177.5" stroke="#111" stroke-width="1.3"/>
<line x1="1264" x2="1365" y1="179.2" y2="179.2" stroke="#555" stroke-width="0.8"/>
<line x1="1419" x2="1565" y1="179.4" y2="179.4" stroke="#111" stroke-width="1.0"/>
<line x1="1450" x2="1490" y1="180.6" y2="180.6" stroke="#222" stroke-width="0.7"/>
<line x1="1565" x2="1751" y1="180.5" y2="180.5" stroke="#111" stroke-width="0.9"/>
<line x1="1664" x2="1744" y1="183.2" y2="183.2" stroke="#111" stroke-width="0.9"/>
<line x1="1691.3" x2="1722.9" y1="189.2" y2="189.2" stroke="#111" stroke-width="0.8"/>
<line x1="1700" x2="1722" y1="196.0" y2="196.0" stroke="#222" stroke-width="0.7"/>
<line x1="1780.5" x2="1852.6" y1="180.5" y2="180.5" stroke="#222" stroke-width="0.8"/>
<line x1="1852" x2="1895.6" y1="179.6" y2="179.6" stroke="#222" stroke-width="0.8"/>
<line x1="1868" x2="1895.6" y1="182.6" y2="182.6" stroke="#333" stroke-width="0.8"/>
<line x1="1700" x2="1742" y1="182.4" y2="182.4" stroke="#222" stroke-width="0.7"/>
<line x1="1895.6" x2="1895.6" y1="177.5" y2="195.5" stroke="#222" stroke-width="0.9"/>
<rect x="1171.80" y="449.2" width="1.55" height="46.0" fill="#9a8aa0"/><rect x="1173.00" y="449.2" width="1.85" height="46.0" fill="#b0b5d0"/><rect x="1174.50" y="449.2" width="1.85" height="46.0" fill="#9ab8d8"/><rect x="1176.00" y="449.2" width="2.35" height="46.0" fill="#d8b48c"/><rect x="1178.00" y="449.2" width="1.85" height="46.0" fill="#a888a8"/><rect x="1179.50" y="449.2" width="5.85" height="46.0" fill="#ef6a5a"/><rect x="1185.00" y="449.2" width="1.85" height="46.0" fill="#c88aa0"/><rect x="1186.50" y="449.2" width="1.85" height="46.0" fill="#c8a080"/><rect x="1188.00" y="449.2" width="2.35" height="46.0" fill="#a08aa8"/><rect x="1190.00" y="449.2" width="2.15" height="46.0" fill="#8a5a9a"/><rect x="1191.80" y="449.2" width="2.55" height="46.0" fill="#b8a090"/><rect x="1194.00" y="449.2" width="2.85" height="46.0" fill="#50308a"/><rect x="1196.50" y="449.2" width="2.35" height="46.0" fill="#a890a0"/><rect x="1198.50" y="449.2" width="2.85" height="46.0" fill="#c0909a"/><rect x="1201.00" y="449.2" width="2.35" height="46.0" fill="#c878a8"/><rect x="1203.00" y="449.2" width="6.85" height="46.0" fill="#ecc89a"/><rect x="1209.50" y="449.2" width="1.85" height="46.0" fill="#9ab878"/><rect x="1211.00" y="449.2" width="1.85" height="46.0" fill="#d890a0"/><rect x="1212.50" y="449.2" width="1.85" height="46.0" fill="#b05a80"/><rect x="1214.00" y="449.2" width="4.35" height="46.0" fill="#e63c3c"/><rect x="1218.00" y="449.2" width="3.35" height="46.0" fill="#2a608a"/><rect x="1221.00" y="449.2" width="15.35" height="46.0" fill="#f5b8c8"/><rect x="1236.00" y="449.2" width="3.35" height="46.0" fill="#a890c8"/><rect x="1239.00" y="449.2" width="1.85" height="46.0" fill="#7a3a50"/><rect x="1240.50" y="449.2" width="4.35" height="46.0" fill="#8a2a3a"/><rect x="1244.50" y="449.2" width="7.85" height="46.0" fill="#fffff0"/><rect x="1252.00" y="449.2" width="3.35" height="46.0" fill="#d08a98"/><rect x="1255.00" y="449.2" width="2.35" height="46.0" fill="#a07088"/><rect x="1257.00" y="449.2" width="3.35" height="46.0" fill="#d05a48"/><rect x="1260.00" y="449.2" width="4.35" height="46.0" fill="#ea7a5e"/><rect x="1264.00" y="449.2" width="9.85" height="46.0" fill="#ffffe0"/><rect x="1273.50" y="449.2" width="5.85" height="46.0" fill="#c85a88"/><rect x="1279.00" y="449.2" width="3.35" height="46.0" fill="#c088c0"/><rect x="1282.00" y="449.2" width="4.85" height="46.0" fill="#d8b8d8"/><rect x="1286.50" y="449.2" width="4.35" height="46.0" fill="#8a1a28"/><rect x="1290.50" y="449.2" width="3.35" height="46.0" fill="#a07898"/><rect x="1293.50" y="449.2" width="2.35" height="46.0" fill="#c83a8a"/><rect x="1295.50" y="449.2" width="2.35" height="46.0" fill="#a070a8"/><rect x="1297.50" y="449.2" width="3.65" height="46.0" fill="#d8b0d8"/><rect x="1300.80" y="449.2" width="4.05" height="46.0" fill="#6a2a9a"/><rect x="1304.50" y="449.2" width="2.85" height="46.0" fill="#a07858"/><rect x="1307.00" y="449.2" width="3.35" height="46.0" fill="#8a8a40"/><rect x="1310.00" y="449.2" width="2.35" height="46.0" fill="#b07090"/><rect x="1312.00" y="449.2" width="3.35" height="46.0" fill="#8a68b8"/><rect x="1315.00" y="449.2" width="2.35" height="46.0" fill="#9a8a60"/><rect x="1317.00" y="449.2" width="2.35" height="46.0" fill="#c838a0"/><rect x="1319.00" y="449.2" width="2.85" height="46.0" fill="#a8d040"/><rect x="1321.50" y="449.2" width="5.85" height="46.0" fill="#8a7868"/><rect x="1327.00" y="449.2" width="3.35" height="46.0" fill="#b8d848"/><rect x="1330.00" y="449.2" width="6.35" height="46.0" fill="#3a3088"/><rect x="1336.00" y="449.2" width="2.35" height="46.0" fill="#e8a838"/><rect x="1338.00" y="449.2" width="4.85" height="46.0" fill="#e87818"/><rect x="1342.50" y="449.2" width="2.35" height="46.0" fill="#6a9868"/><rect x="1344.50" y="449.2" width="8.85" height="46.0" fill="#a8d040"/><rect x="1353.00" y="449.2" width="4.15" height="46.0" fill="#fdd8a8"/><rect x="1356.80" y="449.2" width="6.75" height="46.0" fill="#8cc030"/><rect x="1363.20" y="449.2" width="5.15" height="46.0" fill="#888a30"/><rect x="1368.00" y="449.2" width="4.35" height="46.0" fill="#e87880"/><rect x="1372.00" y="449.2" width="2.35" height="46.0" fill="#b84888"/><rect x="1374.00" y="449.2" width="2.35" height="46.0" fill="#a090a8"/><rect x="1376.00" y="449.2" width="3.35" height="46.0" fill="#80b8e8"/><rect x="1379.00" y="449.2" width="6.35" height="46.0" fill="#884420"/><rect x="1385.00" y="449.2" width="2.35" height="46.0" fill="#6888c8"/><rect x="1387.00" y="449.2" width="4.85" height="46.0" fill="#e86848"/><rect x="1391.50" y="449.2" width="5.85" height="46.0" fill="#9858a8"/><rect x="1397.00" y="449.2" width="1.85" height="46.0" fill="#8868a8"/><rect x="1398.50" y="449.2" width="4.05" height="46.0" fill="#d8a0d0"/><rect x="1402.20" y="449.2" width="8.95" height="46.0" fill="#a8509a"/><rect x="1410.80" y="449.2" width="8.55" height="46.0" fill="#70c8d8"/><rect x="1419.00" y="449.2" width="1.85" height="46.0" fill="#a888c0"/><rect x="1420.50" y="449.2" width="7.65" height="46.0" fill="#4080b0"/><rect x="1427.80" y="449.2" width="2.55" height="46.0" fill="#8898a8"/><rect x="1430.00" y="449.2" width="2.35" height="46.0" fill="#b0b0c8"/><rect x="1432.00" y="449.2" width="6.35" height="46.0" fill="#d0c0c8"/><rect x="1438.00" y="449.2" width="4.15" height="46.0" fill="#8a1a28"/><rect x="1441.80" y="449.2" width="3.35" height="46.0" fill="#6a9838"/><rect x="1444.80" y="449.2" width="6.55" height="46.0" fill="#b0e0e8"/><rect x="1451.00" y="449.2" width="2.85" height="46.0" fill="#b8a0d0"/><rect x="1453.50" y="449.2" width="1.85" height="46.0" fill="#d8a0d0"/><rect x="1455.00" y="449.2" width="6.15" height="46.0" fill="#c878c0"/><rect x="1460.80" y="449.2" width="9.55" height="46.0" fill="#e0f4f8"/><rect x="1470.00" y="449.2" width="5.35" height="46.0" fill="#d8a8d0"/><rect x="1475.00" y="449.2" width="4.35" height="46.0" fill="#c83818"/><rect x="1479.00" y="449.2" width="3.55" height="46.0" fill="#88c8f0"/><rect x="1482.20" y="449.2" width="5.15" height="46.0" fill="#a81858"/><rect x="1487.00" y="449.2" width="4.15" height="46.0" fill="#b0d0f0"/><rect x="1490.80" y="449.2" width="2.55" height="46.0" fill="#703050"/><rect x="1493.00" y="449.2" width="4.35" height="46.0" fill="#f8fff0"/><rect x="1497.00" y="449.2" width="6.35" height="46.0" fill="#f8e0f0"/><rect x="1503.00" y="449.2" width="18.35" height="46.0" fill="#68b830"/><rect x="1521.00" y="449.2" width="1.85" height="46.0" fill="#8878a0"/><rect x="1522.50" y="449.2" width="4.65" height="46.0" fill="#1848a0"/><rect x="1526.80" y="449.2" width="2.55" height="46.0" fill="#a0a090"/><rect x="1529.00" y="449.2" width="4.55" height="46.0" fill="#006830"/><rect x="1533.20" y="449.2" width="8.15" height="46.0" fill="#989898"/><rect x="1541.00" y="449.2" width="2.15" height="46.0" fill="#a858a8"/><rect x="1542.80" y="449.2" width="4.05" height="46.0" fill="#f8fff0"/><rect x="1546.50" y="449.2" width="1.65" height="46.0" fill="#c08080"/><rect x="1547.80" y="449.2" width="3.35" height="46.0" fill="#f08040"/><rect x="1550.80" y="449.2" width="1.75" height="46.0" fill="#6858b8"/><rect x="1552.20" y="449.2" width="3.65" height="46.0" fill="#f08808"/><rect x="1555.50" y="449.2" width="1.65" height="46.0" fill="#b090c0"/><rect x="1556.80" y="449.2" width="4.05" height="46.0" fill="#ffffff"/><rect x="1560.50" y="449.2" width="6.05" height="46.0" fill="#7040a0"/><rect x="1566.20" y="449.2" width="1.95" height="46.0" fill="#a890c8"/><rect x="1567.80" y="449.2" width="4.05" height="46.0" fill="#f8e8e8"/><rect x="1571.50" y="449.2" width="2.85" height="46.0" fill="#e8b090"/><rect x="1574.00" y="449.2" width="2.85" height="46.0" fill="#807080"/><rect x="1576.50" y="449.2" width="12.85" height="46.0" fill="#f07870"/><rect x="1589.00" y="449.2" width="5.35" height="46.0" fill="#886068"/><rect x="1594.00" y="449.2" width="2.85" height="46.0" fill="#c01830"/><rect x="1596.50" y="449.2" width="4.65" height="46.0" fill="#f8ecd0"/><rect x="1600.80" y="449.2" width="3.05" height="46.0" fill="#d0a040"/><rect x="1603.50" y="449.2" width="7.85" height="46.0" fill="#881820"/><rect x="1611.00" y="449.2" width="6.85" height="46.0" fill="#c8e0f8"/><rect x="1617.50" y="449.2" width="1.85" height="46.0" fill="#806870"/><rect x="1619.00" y="449.2" width="6.15" height="46.0" fill="#f8a008"/><rect x="1624.80" y="449.2" width="6.05" height="46.0" fill="#e8d0e8"/><rect x="1630.50" y="449.2" width="17.05" height="46.0" fill="#f0ec38"/><rect x="1647.20" y="449.2" width="3.15" height="46.0" fill="#401820"/><rect x="1650.00" y="449.2" width="10.85" height="46.0" fill="#000000"/><rect x="1660.50" y="449.2" width="3.35" height="46.0" fill="#78b0e0"/><rect x="1663.50" y="449.2" width="1.85" height="46.0" fill="#c0a0b0"/><rect x="1665.00" y="449.2" width="2.35" height="46.0" fill="#c03838"/><rect x="1667.00" y="449.2" width="2.35" height="46.0" fill="#70b890"/><rect x="1669.00" y="449.2" width="1.85" height="46.0" fill="#a06868"/><rect x="1670.50" y="449.2" width="3.85" height="46.0" fill="#48b0b0"/><rect x="1674.00" y="449.2" width="2.35" height="46.0" fill="#703858"/><rect x="1676.00" y="449.2" width="2.35" height="46.0" fill="#c04040"/><rect x="1678.00" y="449.2" width="1.85" height="46.0" fill="#70a0c8"/><rect x="1679.50" y="449.2" width="3.65" height="46.0" fill="#e86098"/><rect x="1682.80" y="449.2" width="1.75" height="46.0" fill="#a0a070"/><rect x="1684.20" y="449.2" width="5.65" height="46.0" fill="#c86838"/><rect x="1689.50" y="449.2" width="1.85" height="46.0" fill="#80a8a0"/><rect x="1691.00" y="449.2" width="7.35" height="46.0" fill="#50b8b0"/><rect x="1698.00" y="449.2" width="4.85" height="46.0" fill="#1c2c68"/><rect x="1702.50" y="449.2" width="5.85" height="46.0" fill="#e82018"/><rect x="1708.00" y="449.2" width="14.85" height="46.0" fill="#60c0b8"/><rect x="1722.50" y="449.2" width="9.35" height="46.0" fill="#98d080"/><rect x="1731.50" y="449.2" width="3.85" height="46.0" fill="#988880"/><rect x="1735.00" y="449.2" width="7.15" height="46.0" fill="#586830"/><rect x="1741.80" y="449.2" width="9.75" height="46.0" fill="#38b8c0"/><rect x="1751.20" y="449.2" width="10.65" height="46.0" fill="#4068b0"/><rect x="1761.50" y="449.2" width="3.65" height="46.0" fill="#881888"/><rect x="1764.80" y="449.2" width="1.75" height="46.0" fill="#c07040"/><rect x="1766.20" y="449.2" width="6.95" height="46.0" fill="#8068b0"/><rect x="1772.80" y="449.2" width="8.05" height="46.0" fill="#881880"/><rect x="1780.50" y="449.2" width="2.05" height="46.0" fill="#5050a0"/><rect x="1782.20" y="449.2" width="2.15" height="46.0" fill="#c0a090"/><rect x="1784.00" y="449.2" width="4.35" height="46.0" fill="#98d098"/><rect x="1788.00" y="449.2" width="20.85" height="46.0" fill="#1c48a0"/><rect x="1808.50" y="449.2" width="2.35" height="46.0" fill="#a080b0"/><rect x="1810.50" y="449.2" width="4.85" height="46.0" fill="#e8b8d8"/><rect x="1815.00" y="449.2" width="6.15" height="46.0" fill="#80c8e8"/><rect x="1820.80" y="449.2" width="3.55" height="46.0" fill="#b84030"/><rect x="1824.00" y="449.2" width="2.35" height="46.0" fill="#e82020"/><rect x="1826.00" y="449.2" width="2.15" height="46.0" fill="#e8a0a0"/><rect x="1827.80" y="449.2" width="2.55" height="46.0" fill="#c06030"/><rect x="1830.00" y="449.2" width="4.35" height="46.0" fill="#a04048"/><rect x="1834.00" y="449.2" width="4.35" height="46.0" fill="#ffffff"/><rect x="1838.00" y="449.2" width="14.85" height="46.0" fill="#a02c2c"/><rect x="1852.50" y="449.2" width="2.35" height="46.0" fill="#908858"/><rect x="1854.50" y="449.2" width="2.05" height="46.0" fill="#9098b8"/><rect x="1856.20" y="449.2" width="3.65" height="46.0" fill="#508850"/><rect x="1859.50" y="449.2" width="2.35" height="46.0" fill="#8090b0"/><rect x="1861.50" y="449.2" width="2.35" height="46.0" fill="#b0a088"/><rect x="1863.50" y="449.2" width="2.05" height="46.0" fill="#7858a0"/><rect x="1865.20" y="449.2" width="2.15" height="46.0" fill="#b09870"/><rect x="1867.00" y="449.2" width="1.85" height="46.0" fill="#608858"/><rect x="1868.50" y="449.2" width="4.65" height="46.0" fill="#a8a8a8"/><rect x="1872.80" y="449.2" width="3.75" height="46.0" fill="#884030"/><rect x="1876.20" y="449.2" width="2.15" height="46.0" fill="#b0c098"/><rect x="1878.00" y="449.2" width="3.15" height="46.0" fill="#809888"/><rect x="1880.80" y="449.2" width="3.55" height="46.0" fill="#e0f4fc"/><rect x="1884.00" y="449.2" width="11.35" height="46.0" fill="#d8b888"/><rect x="1895.00" y="449.2" width="1.00" height="46.0" fill="#a0b0c8"/>
<rect x="1171.80" y="495.0" width="2.05" height="46.6" fill="#7a9888"/><rect x="1173.50" y="495.0" width="1.85" height="46.6" fill="#a08868"/><rect x="1175.00" y="495.0" width="1.85" height="46.6" fill="#6a9a88"/><rect x="1176.50" y="495.0" width="1.85" height="46.6" fill="#b07858"/><rect x="1178.00" y="495.0" width="1.85" height="46.6" fill="#8a9878"/><rect x="1179.50" y="495.0" width="6.35" height="46.6" fill="#ef6a5a"/><rect x="1185.50" y="495.0" width="2.35" height="46.6" fill="#6aa888"/><rect x="1187.50" y="495.0" width="1.85" height="46.6" fill="#a08070"/><rect x="1189.00" y="495.0" width="3.15" height="46.6" fill="#5ab898"/><rect x="1191.80" y="495.0" width="2.55" height="46.6" fill="#a88858"/><rect x="1194.00" y="495.0" width="3.15" height="46.6" fill="#50308a"/><rect x="1196.80" y="495.0" width="2.55" height="46.6" fill="#8a9868"/><rect x="1199.00" y="495.0" width="2.35" height="46.6" fill="#a89060"/><rect x="1201.00" y="495.0" width="2.35" height="46.6" fill="#48b8b0"/><rect x="1203.00" y="495.0" width="6.35" height="46.6" fill="#98c898"/><rect x="1209.00" y="495.0" width="2.15" height="46.6" fill="#a08058"/><rect x="1210.80" y="495.0" width="2.55" height="46.6" fill="#30b8c0"/><rect x="1213.00" y="495.0" width="1.35" height="46.6" fill="#a05858"/><rect x="1214.00" y="495.0" width="4.35" height="46.6" fill="#e63c3c"/><rect x="1218.00" y="495.0" width="3.35" height="46.6" fill="#e87818"/><rect x="1221.00" y="495.0" width="15.35" height="46.6" fill="#e23c3c"/><rect x="1236.00" y="495.0" width="3.35" height="46.6" fill="#78b890"/><rect x="1239.00" y="495.0" width="1.85" height="46.6" fill="#30b8c0"/><rect x="1240.50" y="495.0" width="4.35" height="46.6" fill="#8a3038"/><rect x="1244.50" y="495.0" width="11.35" height="46.6" fill="#fffff0"/><rect x="1255.50" y="495.0" width="1.85" height="46.6" fill="#60b8b0"/><rect x="1257.00" y="495.0" width="3.35" height="46.6" fill="#98c898"/><rect x="1260.00" y="495.0" width="4.35" height="46.6" fill="#ef7a5e"/><rect x="1264.00" y="495.0" width="15.35" height="46.6" fill="#e23c3c"/><rect x="1279.00" y="495.0" width="2.85" height="46.6" fill="#c05a60"/><rect x="1281.50" y="495.0" width="8.85" height="46.6" fill="#e23c3c"/><rect x="1290.00" y="495.0" width="2.35" height="46.6" fill="#78a880"/><rect x="1292.00" y="495.0" width="2.35" height="46.6" fill="#a08058"/><rect x="1294.00" y="495.0" width="2.35" height="46.6" fill="#4a9898"/><rect x="1296.00" y="495.0" width="2.35" height="46.6" fill="#6a9878"/><rect x="1298.00" y="495.0" width="3.15" height="46.6" fill="#e23c3c"/><rect x="1300.80" y="495.0" width="4.05" height="46.6" fill="#8a3038"/><rect x="1304.50" y="495.0" width="2.85" height="46.6" fill="#a0a868"/><rect x="1307.00" y="495.0" width="4.35" height="46.6" fill="#78b888"/><rect x="1311.00" y="495.0" width="4.35" height="46.6" fill="#68c8d8"/><rect x="1315.00" y="495.0" width="4.35" height="46.6" fill="#8ab078"/><rect x="1319.00" y="495.0" width="3.35" height="46.6" fill="#d08838"/><rect x="1322.00" y="495.0" width="6.85" height="46.6" fill="#e87818"/><rect x="1328.50" y="495.0" width="1.85" height="46.6" fill="#78a878"/><rect x="1330.00" y="495.0" width="7.35" height="46.6" fill="#e87818"/><rect x="1337.00" y="495.0" width="4.35" height="46.6" fill="#e07820"/><rect x="1341.00" y="495.0" width="4.35" height="46.6" fill="#58c0d8"/><rect x="1345.00" y="495.0" width="1.35" height="46.6" fill="#c07830"/><rect x="1346.00" y="495.0" width="7.35" height="46.6" fill="#e07018"/><rect x="1353.00" y="495.0" width="10.55" height="46.6" fill="#98c898"/><rect x="1363.20" y="495.0" width="8.65" height="46.6" fill="#e07018"/><rect x="1371.50" y="495.0" width="2.35" height="46.6" fill="#88b880"/><rect x="1373.50" y="495.0" width="11.85" height="46.6" fill="#e07018"/><rect x="1385.00" y="495.0" width="6.85" height="46.6" fill="#68c8d8"/><rect x="1391.50" y="495.0" width="5.35" height="46.6" fill="#e07018"/><rect x="1396.50" y="495.0" width="23.35" height="46.6" fill="#70c8d8"/><rect x="1419.50" y="495.0" width="1.35" height="46.6" fill="#48b8b8"/><rect x="1420.50" y="495.0" width="7.65" height="46.6" fill="#98c898"/><rect x="1427.80" y="495.0" width="2.55" height="46.6" fill="#607880"/><rect x="1430.00" y="495.0" width="2.85" height="46.6" fill="#8a7868"/><rect x="1432.50" y="495.0" width="4.85" height="46.6" fill="#883838"/><rect x="1437.00" y="495.0" width="2.35" height="46.6" fill="#8a5050"/><rect x="1439.00" y="495.0" width="5.35" height="46.6" fill="#883838"/><rect x="1444.00" y="495.0" width="1.35" height="46.6" fill="#a07060"/><rect x="1445.00" y="495.0" width="6.15" height="46.6" fill="#98c898"/><rect x="1450.80" y="495.0" width="2.05" height="46.6" fill="#707878"/><rect x="1452.50" y="495.0" width="1.85" height="46.6" fill="#a05848"/><rect x="1454.00" y="495.0" width="16.15" height="46.6" fill="#883838"/><rect x="1469.80" y="495.0" width="4.55" height="46.6" fill="#68c8d0"/><rect x="1474.00" y="495.0" width="1.35" height="46.6" fill="#50c0c8"/><rect x="1475.00" y="495.0" width="4.35" height="46.6" fill="#68c8d0"/><rect x="1479.00" y="495.0" width="3.15" height="46.6" fill="#883838"/><rect x="1481.80" y="495.0" width="5.55" height="46.6" fill="#68c8d0"/><rect x="1487.00" y="495.0" width="4.15" height="46.6" fill="#883838"/><rect x="1490.80" y="495.0" width="2.55" height="46.6" fill="#20c0c8"/><rect x="1493.00" y="495.0" width="10.35" height="46.6" fill="#e07018"/><rect x="1503.00" y="495.0" width="1.35" height="46.6" fill="#40b0b8"/><rect x="1504.00" y="495.0" width="16.35" height="46.6" fill="#70c8d8"/><rect x="1520.00" y="495.0" width="2.85" height="46.6" fill="#885050"/><rect x="1522.50" y="495.0" width="4.85" height="46.6" fill="#883838"/><rect x="1527.00" y="495.0" width="2.15" height="46.6" fill="#886060"/><rect x="1528.80" y="495.0" width="13.55" height="46.6" fill="#883838"/><rect x="1542.00" y="495.0" width="5.15" height="46.6" fill="#68c8d8"/><rect x="1546.80" y="495.0" width="19.55" height="46.6" fill="#883838"/><rect x="1566.00" y="495.0" width="2.35" height="46.6" fill="#48a8a0"/><rect x="1568.00" y="495.0" width="3.35" height="46.6" fill="#883838"/><rect x="1571.00" y="495.0" width="3.35" height="46.6" fill="#808070"/><rect x="1574.00" y="495.0" width="2.55" height="46.6" fill="#30c0c8"/><rect x="1576.20" y="495.0" width="17.65" height="46.6" fill="#883838"/><rect x="1593.50" y="495.0" width="3.85" height="46.6" fill="#68c8d8"/><rect x="1597.00" y="495.0" width="3.85" height="46.6" fill="#98c890"/><rect x="1600.50" y="495.0" width="62.85" height="46.6" fill="#70c8d8"/><rect x="1663.00" y="495.0" width="2.35" height="46.6" fill="#88b870"/><rect x="1665.00" y="495.0" width="3.35" height="46.6" fill="#50c0c8"/><rect x="1668.00" y="495.0" width="2.15" height="46.6" fill="#609898"/><rect x="1669.80" y="495.0" width="4.05" height="46.6" fill="#70c8d8"/><rect x="1673.50" y="495.0" width="2.35" height="46.6" fill="#68c098"/><rect x="1675.50" y="495.0" width="4.35" height="46.6" fill="#70c8d8"/><rect x="1679.50" y="495.0" width="3.05" height="46.6" fill="#883038"/><rect x="1682.20" y="495.0" width="49.65" height="46.6" fill="#70c8d8"/><rect x="1731.50" y="495.0" width="3.65" height="46.6" fill="#882c34"/><rect x="1734.80" y="495.0" width="7.75" height="46.6" fill="#70c8d8"/><rect x="1742.20" y="495.0" width="8.95" height="46.6" fill="#883838"/><rect x="1750.80" y="495.0" width="1.55" height="46.6" fill="#c08830"/><rect x="1752.00" y="495.0" width="9.35" height="46.6" fill="#e07018"/><rect x="1761.00" y="495.0" width="4.35" height="46.6" fill="#98c898"/><rect x="1765.00" y="495.0" width="1.85" height="46.6" fill="#70c0a8"/><rect x="1766.50" y="495.0" width="6.65" height="46.6" fill="#98c898"/><rect x="1772.80" y="495.0" width="8.05" height="46.6" fill="#70c8d8"/><rect x="1780.50" y="495.0" width="2.05" height="46.6" fill="#c07838"/><rect x="1782.20" y="495.0" width="2.15" height="46.6" fill="#e08020"/><rect x="1784.00" y="495.0" width="3.55" height="46.6" fill="#98c898"/><rect x="1787.20" y="495.0" width="21.65" height="46.6" fill="#e07018"/><rect x="1808.50" y="495.0" width="2.65" height="46.6" fill="#a09850"/><rect x="1810.80" y="495.0" width="9.55" height="46.6" fill="#e07018"/><rect x="1820.00" y="495.0" width="3.35" height="46.6" fill="#c88838"/><rect x="1823.00" y="495.0" width="3.15" height="46.6" fill="#50c0c8"/><rect x="1825.80" y="495.0" width="3.55" height="46.6" fill="#c08838"/><rect x="1829.00" y="495.0" width="3.15" height="46.6" fill="#d88828"/><rect x="1831.80" y="495.0" width="21.05" height="46.6" fill="#e07018"/><rect x="1852.50" y="495.0" width="4.35" height="46.6" fill="#88a880"/><rect x="1856.50" y="495.0" width="3.35" height="46.6" fill="#a06848"/><rect x="1859.50" y="495.0" width="2.05" height="46.6" fill="#58c0c0"/><rect x="1861.20" y="495.0" width="3.15" height="46.6" fill="#98c898"/><rect x="1864.00" y="495.0" width="2.35" height="46.6" fill="#b0a868"/><rect x="1866.00" y="495.0" width="2.35" height="46.6" fill="#a0a888"/><rect x="1868.00" y="495.0" width="10.35" height="46.6" fill="#98c898"/><rect x="1878.00" y="495.0" width="3.15" height="46.6" fill="#58c0c0"/><rect x="1880.80" y="495.0" width="14.55" height="46.6" fill="#98c898"/><rect x="1895.00" y="495.0" width="1.00" height="46.6" fill="#60c8a8"/>
<path d="M1171.8 449.3H1896.0M1171.8 495.1H1896.0M1171.8 541.4H1896.0" stroke="#4a4644" stroke-width="0.9" fill="none"/>
<path d="M1171.8 449V541.6M1896.0 449V541.6" stroke="#6a6664" stroke-width="0.6" fill="none"/>
</g>
<g id="panelC">
<rect x="318.0" y="861.30" width="12.1" height="74.31" fill="#6cc6d6"/>
<rect x="337.3" y="861.30" width="235.7" height="74.31" fill="#fafbfd"/>
<rect x="572.7" y="861.30" width="237.2" height="74.31" fill="#fefaf9"/>
<text x="309.2" y="907.2" font-size="25.5" fill="#1a1a1a" text-anchor="end">MEcyan</text>
<text x="455.0" y="903.5" font-size="14.4" fill="#1a1a1a" text-anchor="middle">-0.026</text>
<text x="691.3" y="903.5" font-size="14.4" fill="#1a1a1a" text-anchor="middle">0.026</text>
<rect x="318.0" y="935.31" width="12.1" height="74.31" fill="#5b4689"/>
<rect x="337.3" y="935.31" width="235.7" height="74.31" fill="#f0f4fa"/>
<rect x="572.7" y="935.31" width="237.2" height="74.31" fill="#fdf0eb"/>
<text x="309.2" y="981.2" font-size="25.5" fill="#1a1a1a" text-anchor="end">MEmediumpurple4</text>
<text x="455.0" y="977.5" font-size="14.4" fill="#1a1a1a" text-anchor="middle">-0.083</text>
<text x="691.3" y="977.5" font-size="14.4" fill="#1a1a1a" text-anchor="middle">0.083</text>
<rect x="318.0" y="1009.32" width="12.1" height="74.31" fill="#e0393c"/>
<rect x="337.3" y="1009.32" width="235.7" height="74.31" fill="#eaeff8"/>
<rect x="572.7" y="1009.32" width="237.2" height="74.31" fill="#fce9e1"/>
<text x="309.2" y="1055.2" font-size="25.5" fill="#1a1a1a" text-anchor="end">MEbrown2</text>
<text x="455.0" y="1051.5" font-size="14.4" fill="#1a1a1a" text-anchor="middle">-0.12</text>
<text x="691.3" y="1051.5" font-size="14.4" fill="#1a1a1a" text-anchor="middle">0.12</text>
<rect x="318.0" y="1083.33" width="12.1" height="74.31" fill="#97c795"/>
<rect x="337.3" y="1083.33" width="235.7" height="74.31" fill="#fce9e1"/>
<rect x="572.7" y="1083.33" width="237.2" height="74.31" fill="#eaeff8"/>
<text x="309.2" y="1129.2" font-size="25.5" fill="#1a1a1a" text-anchor="end">MEdarkseagreen3</text>
<text x="455.0" y="1125.5" font-size="14.4" fill="#1a1a1a" text-anchor="middle">0.12</text>
<text x="691.3" y="1125.5" font-size="14.4" fill="#1a1a1a" text-anchor="middle">-0.12</text>
<rect x="318.0" y="1157.34" width="12.1" height="74.31" fill="#ec6f58"/>
<rect x="337.3" y="1157.34" width="235.7" height="74.31" fill="#fef9f7"/>
<rect x="572.7" y="1157.34" width="237.2" height="74.31" fill="#f9fafd"/>
<text x="309.2" y="1203.2" font-size="25.5" fill="#1a1a1a" text-anchor="end">MEcoral1</text>
<text x="455.0" y="1199.5" font-size="14.4" fill="#1a1a1a" text-anchor="middle">0.034</text>
<text x="691.3" y="1199.5" font-size="14.4" fill="#1a1a1a" text-anchor="middle">-0.034</text>
<rect x="318.0" y="1231.35" width="12.1" height="74.31" fill="#e07010"/>
<rect x="337.3" y="1231.35" width="235.7" height="74.31" fill="#c8d5ec"/>
<rect x="572.7" y="1231.35" width="237.2" height="74.31" fill="#f8c5b3"/>
<text x="309.2" y="1277.3" font-size="25.5" fill="#1a1a1a" text-anchor="end">MEdarkorange2</text>
<text x="455.0" y="1273.6" font-size="14.4" fill="#1a1a1a" text-anchor="middle">-0.31</text>
<text x="691.3" y="1273.6" font-size="14.4" fill="#1a1a1a" text-anchor="middle">0.31</text>
<rect x="318.0" y="1305.36" width="12.1" height="74.31" fill="#fffff0"/>
<rect x="337.3" y="1305.36" width="235.7" height="74.31" fill="#f8c5b3"/>
<rect x="572.7" y="1305.36" width="237.2" height="74.31" fill="#c8d5ec"/>
<text x="309.2" y="1351.3" font-size="25.5" fill="#1a1a1a" text-anchor="end">MEivory</text>
<text x="455.0" y="1347.6" font-size="14.4" fill="#1a1a1a" text-anchor="middle">0.31</text>
<text x="691.3" y="1347.6" font-size="14.4" fill="#1a1a1a" text-anchor="middle">-0.31</text>
<rect x="318.0" y="1379.37" width="12.1" height="74.31" fill="#88363a"/>
<rect x="337.3" y="1379.37" width="235.7" height="74.31" fill="#f6b59d"/>
<rect x="572.7" y="1379.37" width="237.2" height="74.31" fill="#b8c9e7"/>
<text x="309.2" y="1425.3" font-size="25.5" fill="#1a1a1a" text-anchor="end">MEindianred4</text>
<text x="455.0" y="1412.2" font-size="14.4" fill="#1a1a1a" text-anchor="middle">0.4</text>
<text x="691.3" y="1412.2" font-size="14.4" fill="#1a1a1a" text-anchor="middle">-0.4</text>
<text x="455.0" y="1430.4" font-size="11.5" font-weight="bold" fill="#1a1a1a" text-anchor="middle">*</text>
<text x="691.3" y="1430.4" font-size="11.5" font-weight="bold" fill="#1a1a1a" text-anchor="middle">*</text>
<rect x="318.0" y="1453.38" width="12.1" height="74.31" fill="#e8826a"/>
<rect x="337.3" y="1453.38" width="235.7" height="74.31" fill="#fce5dd"/>
<rect x="572.7" y="1453.38" width="237.2" height="74.31" fill="#e6ecf7"/>
<text x="309.2" y="1499.3" font-size="25.5" fill="#1a1a1a" text-anchor="end">MEsalmon2</text>
<text x="455.0" y="1495.6" font-size="14.4" fill="#1a1a1a" text-anchor="middle">0.14</text>
<text x="691.3" y="1495.6" font-size="14.4" fill="#1a1a1a" text-anchor="middle">-0.14</text>
<rect x="318.0" y="1527.39" width="12.1" height="74.31" fill="#bfbfbf"/>
<rect x="337.3" y="1527.39" width="235.7" height="74.31" fill="#f9fafd"/>
<rect x="572.7" y="1527.39" width="237.2" height="74.31" fill="#fef8f6"/>
<text x="309.2" y="1573.3" font-size="25.5" fill="#1a1a1a" text-anchor="end">MEgrey</text>
<text x="455.0" y="1569.6" font-size="14.4" fill="#1a1a1a" text-anchor="middle">-0.035</text>
<text x="691.3" y="1569.6" font-size="14.4" fill="#1a1a1a" text-anchor="middle">0.035</text>
<rect x="337.3" y="861.3" width="472.6" height="740.1" fill="none" stroke="#4a4a4a" stroke-width="1.1"/>
<text transform="translate(463.0 1625.5) rotate(-30)" font-size="24.6" fill="#1a1a1a" text-anchor="end">AMI_HF</text>
<text transform="translate(700.0 1625.5) rotate(-30)" font-size="24.6" fill="#1a1a1a" text-anchor="end">AMI_noHF</text>
<defs><linearGradient id="cb" x1="0" y1="0" x2="0" y2="1"><stop offset="0.000" stop-color="#e63f19"/><stop offset="0.250" stop-color="#f4a284"/><stop offset="0.500" stop-color="#ffffff"/><stop offset="0.750" stop-color="#a6bbe1"/><stop offset="1.000" stop-color="#3b7fc4"/></linearGradient></defs>
<rect x="837.8" y="870.1" width="24.9" height="731.7" fill="url(#cb)"/>
<text x="874.6" y="879.9" font-size="24.8" fill="#1a1a1a">1.0</text>
<path d="M837.8 1053.1h4.5M862.7 1053.1h-4.5" stroke="#fff" stroke-width="0.9" opacity="0.8"/>
<text x="874.6" y="1062.8" font-size="24.8" fill="#1a1a1a">0.5</text>
<text x="874.6" y="1245.7" font-size="24.8" fill="#1a1a1a">0.0</text>
<path d="M837.8 1418.9h4.5M862.7 1418.9h-4.5" stroke="#fff" stroke-width="0.9" opacity="0.8"/>
<text x="874.6" y="1428.6" font-size="24.8" fill="#1a1a1a">-0.5</text>
<text x="874.6" y="1611.5" font-size="24.8" fill="#1a1a1a">-1.0</text>
</g>
<g id="panelD">
<circle cx="1398.0" cy="1288.2" r="166.0" fill="#b9e0e8"/>
<circle cx="1645.7" cy="1292.9" r="166.2" fill="#f4afae"/>
<clipPath id="cl"><circle cx="1398.0" cy="1288.2" r="166.0"/></clipPath>
<circle cx="1645.7" cy="1292.9" r="166.2" fill="#c9b1b1" clip-path="url(#cl)"/>
<defs><linearGradient id="wf" gradientUnits="userSpaceOnUse" x1="0" y1="1180" x2="0" y2="1285"><stop offset="0" stop-color="#fff" stop-opacity="0.95"/><stop offset="0.6" stop-color="#fff" stop-opacity="0.8"/><stop offset="1" stop-color="#fff" stop-opacity="0"/></linearGradient></defs><path d="M1525.6 1181.9A166 166 0 0 1 1564 1285" fill="none" stroke="url(#wf)" stroke-width="1.1"/>
<text x="1397.4" y="1088.7" font-size="37.4" class="serif" fill="#231815" text-anchor="middle">DEG</text>
<text x="1644.6" y="1088.7" font-size="37.4" class="serif" fill="#231815" text-anchor="middle">Indiared4</text>
<text x="1379.8" y="1310.0" font-size="29" font-weight="bold" fill="#231815" text-anchor="middle" letter-spacing="0.4">749</text>
<text x="1514.0" y="1310.0" font-size="29" font-weight="bold" fill="#231815" text-anchor="middle" letter-spacing="0.4">235</text>
<text x="1660.9" y="1310.0" font-size="29" font-weight="bold" fill="#231815" text-anchor="middle" letter-spacing="0.4">1600</text>
</g>
</svg>
</body></html>
